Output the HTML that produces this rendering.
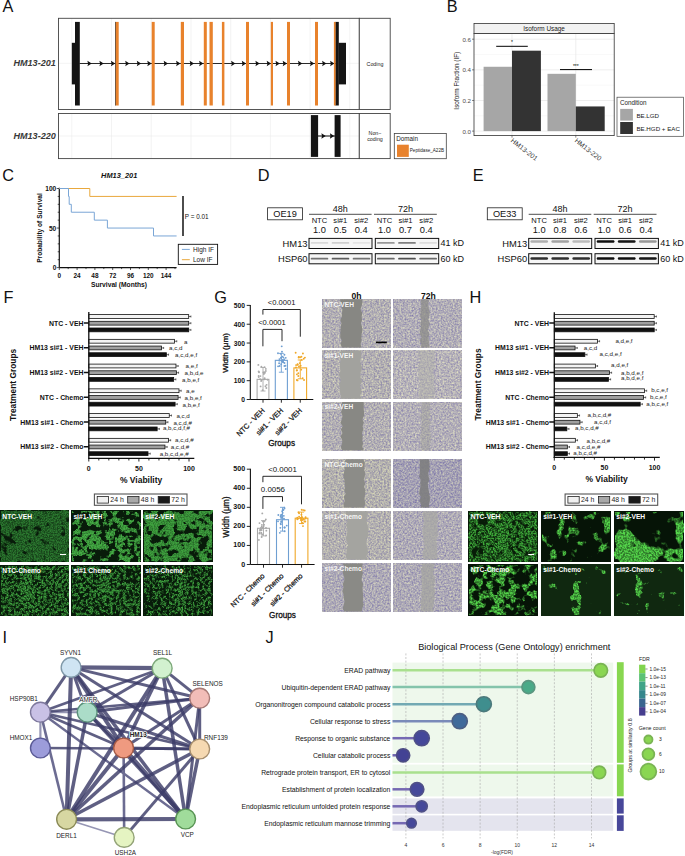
<!DOCTYPE html>
<html><head><meta charset="utf-8"><title>Figure</title>
<style>
html,body{margin:0;padding:0;background:#fff;}
body{width:685px;height:856px;overflow:hidden;}
svg{display:block;font-family:"Liberation Sans",sans-serif;}
</style></head><body>
<svg width="685" height="856" viewBox="0 0 685 856">
<defs><radialGradient id="gW"><stop offset="0" stop-color="#fff" stop-opacity="1"/><stop offset="0.6" stop-color="#fff" stop-opacity="0.6"/><stop offset="1" stop-color="#fff" stop-opacity="0"/></radialGradient><radialGradient id="gK"><stop offset="0" stop-color="#000" stop-opacity="1"/><stop offset="0.6" stop-color="#000" stop-opacity="0.6"/><stop offset="1" stop-color="#000" stop-opacity="0"/></radialGradient><filter id="bblur" x="-10%" y="-100%" width="120%" height="300%"><feGaussianBlur stdDeviation="0.55 0.45"/></filter><filter id="fl1" filterUnits="userSpaceOnUse" x="0.50" y="510.80" width="68.50" height="51.00" color-interpolation-filters="sRGB">
<feTurbulence type="fractalNoise" baseFrequency="0.12 0.12" numOctaves="3" seed="3" result="lo"/>
<feColorMatrix in="lo" type="matrix" values="1 0 0 0 0  1 0 0 0 0  1 0 0 0 0  0 0 0 0 1" result="lo1"/>
<feComposite in="SourceGraphic" in2="lo1" operator="arithmetic" k1="0" k2="1" k3="1" k4="-0.5" result="s"/>
<feComponentTransfer in="s" result="mask"><feFuncR type="linear" slope="8" intercept="-2.129"/><feFuncG type="linear" slope="8" intercept="-2.129"/><feFuncB type="linear" slope="8" intercept="-2.129"/><feFuncA type="linear" slope="0" intercept="1"/></feComponentTransfer>
<feTurbulence type="fractalNoise" baseFrequency="0.75" numOctaves="2" seed="11" result="hi"/>
<feColorMatrix in="hi" type="matrix" values="1 0 0 0 0  1 0 0 0 0  1 0 0 0 0  0 0 0 0 1" result="hi1"/>
<feComponentTransfer in="hi1" result="hi2"><feFuncR type="linear" slope="3" intercept="-1"/><feFuncG type="linear" slope="3" intercept="-1"/><feFuncB type="linear" slope="3" intercept="-1"/></feComponentTransfer>
<feComposite in="mask" in2="hi2" operator="arithmetic" k1="0.55" k2="0.42" k3="0" k4="0" result="v"/>
<feColorMatrix in="v" type="matrix" values="0.141 0 0 0 0.031  0.373 0 0 0 0.106  0.149 0 0 0 0.039  0 0 0 0 1" result="col"/>
<feGaussianBlur in="col" stdDeviation="0.35"/>
</filter><filter id="fl2" filterUnits="userSpaceOnUse" x="71.60" y="510.80" width="69.10" height="51.00" color-interpolation-filters="sRGB">
<feTurbulence type="fractalNoise" baseFrequency="0.16 0.16" numOctaves="3" seed="5" result="lo"/>
<feColorMatrix in="lo" type="matrix" values="1 0 0 0 0  1 0 0 0 0  1 0 0 0 0  0 0 0 0 1" result="lo1"/>
<feComposite in="SourceGraphic" in2="lo1" operator="arithmetic" k1="0" k2="1" k3="1" k4="-0.5" result="s"/>
<feComponentTransfer in="s" result="mask"><feFuncR type="linear" slope="10" intercept="-4.500"/><feFuncG type="linear" slope="10" intercept="-4.500"/><feFuncB type="linear" slope="10" intercept="-4.500"/><feFuncA type="linear" slope="0" intercept="1"/></feComponentTransfer>
<feTurbulence type="fractalNoise" baseFrequency="0.75" numOctaves="2" seed="12" result="hi"/>
<feColorMatrix in="hi" type="matrix" values="1 0 0 0 0  1 0 0 0 0  1 0 0 0 0  0 0 0 0 1" result="hi1"/>
<feComponentTransfer in="hi1" result="hi2"><feFuncR type="linear" slope="3" intercept="-1"/><feFuncG type="linear" slope="3" intercept="-1"/><feFuncB type="linear" slope="3" intercept="-1"/></feComponentTransfer>
<feComposite in="mask" in2="hi2" operator="arithmetic" k1="0.4" k2="0.65" k3="0" k4="0" result="v"/>
<feColorMatrix in="v" type="matrix" values="0.235 0 0 0 0.031  0.569 0 0 0 0.106  0.227 0 0 0 0.039  0 0 0 0 1" result="col"/>
<feGaussianBlur in="col" stdDeviation="0.35"/>
</filter><filter id="fl3" filterUnits="userSpaceOnUse" x="143.50" y="510.80" width="69.10" height="51.00" color-interpolation-filters="sRGB">
<feTurbulence type="fractalNoise" baseFrequency="0.14 0.14" numOctaves="3" seed="7" result="lo"/>
<feColorMatrix in="lo" type="matrix" values="1 0 0 0 0  1 0 0 0 0  1 0 0 0 0  0 0 0 0 1" result="lo1"/>
<feComposite in="SourceGraphic" in2="lo1" operator="arithmetic" k1="0" k2="1" k3="1" k4="-0.5" result="s"/>
<feComponentTransfer in="s" result="mask"><feFuncR type="linear" slope="10" intercept="-3.789"/><feFuncG type="linear" slope="10" intercept="-3.789"/><feFuncB type="linear" slope="10" intercept="-3.789"/><feFuncA type="linear" slope="0" intercept="1"/></feComponentTransfer>
<feTurbulence type="fractalNoise" baseFrequency="0.75" numOctaves="2" seed="13" result="hi"/>
<feColorMatrix in="hi" type="matrix" values="1 0 0 0 0  1 0 0 0 0  1 0 0 0 0  0 0 0 0 1" result="hi1"/>
<feComponentTransfer in="hi1" result="hi2"><feFuncR type="linear" slope="3" intercept="-1"/><feFuncG type="linear" slope="3" intercept="-1"/><feFuncB type="linear" slope="3" intercept="-1"/></feComponentTransfer>
<feComposite in="mask" in2="hi2" operator="arithmetic" k1="0.4" k2="0.65" k3="0" k4="0" result="v"/>
<feColorMatrix in="v" type="matrix" values="0.212 0 0 0 0.031  0.522 0 0 0 0.106  0.204 0 0 0 0.039  0 0 0 0 1" result="col"/>
<feGaussianBlur in="col" stdDeviation="0.35"/>
</filter><filter id="fl4" filterUnits="userSpaceOnUse" x="0.50" y="565.40" width="68.50" height="50.40" color-interpolation-filters="sRGB">
<feTurbulence type="fractalNoise" baseFrequency="0.34 0.34" numOctaves="3" seed="9" result="lo"/>
<feColorMatrix in="lo" type="matrix" values="1 0 0 0 0  1 0 0 0 0  1 0 0 0 0  0 0 0 0 1" result="lo1"/>
<feComposite in="SourceGraphic" in2="lo1" operator="arithmetic" k1="0" k2="1" k3="1" k4="-0.5" result="s"/>
<feComponentTransfer in="s" result="mask"><feFuncR type="linear" slope="6" intercept="-2.408"/><feFuncG type="linear" slope="6" intercept="-2.408"/><feFuncB type="linear" slope="6" intercept="-2.408"/><feFuncA type="linear" slope="0" intercept="1"/></feComponentTransfer>
<feTurbulence type="fractalNoise" baseFrequency="0.8" numOctaves="2" seed="14" result="hi"/>
<feColorMatrix in="hi" type="matrix" values="1 0 0 0 0  1 0 0 0 0  1 0 0 0 0  0 0 0 0 1" result="hi1"/>
<feComponentTransfer in="hi1" result="hi2"><feFuncR type="linear" slope="3" intercept="-1"/><feFuncG type="linear" slope="3" intercept="-1"/><feFuncB type="linear" slope="3" intercept="-1"/></feComponentTransfer>
<feComposite in="mask" in2="hi2" operator="arithmetic" k1="0.6" k2="0.35" k3="0" k4="0" result="v"/>
<feColorMatrix in="v" type="matrix" values="0.212 0 0 0 0.031  0.522 0 0 0 0.106  0.204 0 0 0 0.039  0 0 0 0 1" result="col"/>
<feGaussianBlur in="col" stdDeviation="0.35"/>
</filter><filter id="fl5" filterUnits="userSpaceOnUse" x="71.60" y="565.40" width="69.10" height="50.40" color-interpolation-filters="sRGB">
<feTurbulence type="fractalNoise" baseFrequency="0.3 0.3" numOctaves="3" seed="10" result="lo"/>
<feColorMatrix in="lo" type="matrix" values="1 0 0 0 0  1 0 0 0 0  1 0 0 0 0  0 0 0 0 1" result="lo1"/>
<feComposite in="SourceGraphic" in2="lo1" operator="arithmetic" k1="0" k2="1" k3="1" k4="-0.5" result="s"/>
<feComponentTransfer in="s" result="mask"><feFuncR type="linear" slope="6" intercept="-2.537"/><feFuncG type="linear" slope="6" intercept="-2.537"/><feFuncB type="linear" slope="6" intercept="-2.537"/><feFuncA type="linear" slope="0" intercept="1"/></feComponentTransfer>
<feTurbulence type="fractalNoise" baseFrequency="0.8" numOctaves="2" seed="15" result="hi"/>
<feColorMatrix in="hi" type="matrix" values="1 0 0 0 0  1 0 0 0 0  1 0 0 0 0  0 0 0 0 1" result="hi1"/>
<feComponentTransfer in="hi1" result="hi2"><feFuncR type="linear" slope="3" intercept="-1"/><feFuncG type="linear" slope="3" intercept="-1"/><feFuncB type="linear" slope="3" intercept="-1"/></feComponentTransfer>
<feComposite in="mask" in2="hi2" operator="arithmetic" k1="0.6" k2="0.35" k3="0" k4="0" result="v"/>
<feColorMatrix in="v" type="matrix" values="0.212 0 0 0 0.031  0.522 0 0 0 0.106  0.204 0 0 0 0.039  0 0 0 0 1" result="col"/>
<feGaussianBlur in="col" stdDeviation="0.35"/>
</filter><filter id="fl6" filterUnits="userSpaceOnUse" x="143.50" y="565.40" width="69.10" height="50.40" color-interpolation-filters="sRGB">
<feTurbulence type="fractalNoise" baseFrequency="0.36 0.36" numOctaves="3" seed="4" result="lo"/>
<feColorMatrix in="lo" type="matrix" values="1 0 0 0 0  1 0 0 0 0  1 0 0 0 0  0 0 0 0 1" result="lo1"/>
<feComposite in="SourceGraphic" in2="lo1" operator="arithmetic" k1="0" k2="1" k3="1" k4="-0.5" result="s"/>
<feComponentTransfer in="s" result="mask"><feFuncR type="linear" slope="6" intercept="-2.685"/><feFuncG type="linear" slope="6" intercept="-2.685"/><feFuncB type="linear" slope="6" intercept="-2.685"/><feFuncA type="linear" slope="0" intercept="1"/></feComponentTransfer>
<feTurbulence type="fractalNoise" baseFrequency="0.8" numOctaves="2" seed="16" result="hi"/>
<feColorMatrix in="hi" type="matrix" values="1 0 0 0 0  1 0 0 0 0  1 0 0 0 0  0 0 0 0 1" result="hi1"/>
<feComponentTransfer in="hi1" result="hi2"><feFuncR type="linear" slope="3" intercept="-1"/><feFuncG type="linear" slope="3" intercept="-1"/><feFuncB type="linear" slope="3" intercept="-1"/></feComponentTransfer>
<feComposite in="mask" in2="hi2" operator="arithmetic" k1="0.6" k2="0.35" k3="0" k4="0" result="v"/>
<feColorMatrix in="v" type="matrix" values="0.212 0 0 0 0.031  0.522 0 0 0 0.106  0.204 0 0 0 0.039  0 0 0 0 1" result="col"/>
<feGaussianBlur in="col" stdDeviation="0.35"/>
</filter><filter id="fl7" filterUnits="userSpaceOnUse" x="468.90" y="511.50" width="68.30" height="50.30" color-interpolation-filters="sRGB">
<feTurbulence type="fractalNoise" baseFrequency="0.25 0.25" numOctaves="3" seed="21" result="lo"/>
<feColorMatrix in="lo" type="matrix" values="1 0 0 0 0  1 0 0 0 0  1 0 0 0 0  0 0 0 0 1" result="lo1"/>
<feComposite in="SourceGraphic" in2="lo1" operator="arithmetic" k1="0" k2="1" k3="1" k4="-0.5" result="s"/>
<feComponentTransfer in="s" result="mask"><feFuncR type="linear" slope="5" intercept="-1.529"/><feFuncG type="linear" slope="5" intercept="-1.529"/><feFuncB type="linear" slope="5" intercept="-1.529"/><feFuncA type="linear" slope="0" intercept="1"/></feComponentTransfer>
<feTurbulence type="fractalNoise" baseFrequency="0.6" numOctaves="2" seed="31" result="hi"/>
<feColorMatrix in="hi" type="matrix" values="1 0 0 0 0  1 0 0 0 0  1 0 0 0 0  0 0 0 0 1" result="hi1"/>
<feComponentTransfer in="hi1" result="hi2"><feFuncR type="linear" slope="3" intercept="-1"/><feFuncG type="linear" slope="3" intercept="-1"/><feFuncB type="linear" slope="3" intercept="-1"/></feComponentTransfer>
<feComposite in="mask" in2="hi2" operator="arithmetic" k1="0.65" k2="0.15" k3="0" k4="0" result="v"/>
<feColorMatrix in="v" type="matrix" values="0.212 0 0 0 0.031  0.557 0 0 0 0.110  0.196 0 0 0 0.031  0 0 0 0 1" result="col"/>
<feGaussianBlur in="col" stdDeviation="0.35"/>
</filter><filter id="fl8" filterUnits="userSpaceOnUse" x="541.50" y="511.50" width="68.60" height="50.30" color-interpolation-filters="sRGB">
<feTurbulence type="fractalNoise" baseFrequency="0.09 0.09" numOctaves="3" seed="22" result="lo"/>
<feColorMatrix in="lo" type="matrix" values="1 0 0 0 0  1 0 0 0 0  1 0 0 0 0  0 0 0 0 1" result="lo1"/>
<feComposite in="SourceGraphic" in2="lo1" operator="arithmetic" k1="0" k2="1" k3="1" k4="-0.5" result="s"/>
<feComponentTransfer in="s" result="mask"><feFuncR type="linear" slope="10" intercept="-6.300"/><feFuncG type="linear" slope="10" intercept="-6.300"/><feFuncB type="linear" slope="10" intercept="-6.300"/><feFuncA type="linear" slope="0" intercept="1"/></feComponentTransfer>
<feTurbulence type="fractalNoise" baseFrequency="0.55" numOctaves="2" seed="32" result="hi"/>
<feColorMatrix in="hi" type="matrix" values="1 0 0 0 0  1 0 0 0 0  1 0 0 0 0  0 0 0 0 1" result="hi1"/>
<feComponentTransfer in="hi1" result="hi2"><feFuncR type="linear" slope="3" intercept="-1"/><feFuncG type="linear" slope="3" intercept="-1"/><feFuncB type="linear" slope="3" intercept="-1"/></feComponentTransfer>
<feComposite in="mask" in2="hi2" operator="arithmetic" k1="0.6" k2="0.4" k3="0" k4="0" result="v"/>
<feColorMatrix in="v" type="matrix" values="0.310 0 0 0 0.024  0.765 0 0 0 0.078  0.267 0 0 0 0.027  0 0 0 0 1" result="col"/>
<feGaussianBlur in="col" stdDeviation="0.35"/>
</filter><filter id="fl9" filterUnits="userSpaceOnUse" x="614.40" y="511.50" width="69.00" height="50.30" color-interpolation-filters="sRGB">
<feTurbulence type="fractalNoise" baseFrequency="0.06 0.06" numOctaves="3" seed="23" result="lo"/>
<feColorMatrix in="lo" type="matrix" values="1 0 0 0 0  1 0 0 0 0  1 0 0 0 0  0 0 0 0 1" result="lo1"/>
<feComposite in="SourceGraphic" in2="lo1" operator="arithmetic" k1="0" k2="1" k3="1" k4="-0.5" result="s"/>
<feComponentTransfer in="s" result="mask"><feFuncR type="linear" slope="12" intercept="-6.064"/><feFuncG type="linear" slope="12" intercept="-6.064"/><feFuncB type="linear" slope="12" intercept="-6.064"/><feFuncA type="linear" slope="0" intercept="1"/></feComponentTransfer>
<feTurbulence type="fractalNoise" baseFrequency="0.55" numOctaves="2" seed="33" result="hi"/>
<feColorMatrix in="hi" type="matrix" values="1 0 0 0 0  1 0 0 0 0  1 0 0 0 0  0 0 0 0 1" result="hi1"/>
<feComponentTransfer in="hi1" result="hi2"><feFuncR type="linear" slope="3" intercept="-1"/><feFuncG type="linear" slope="3" intercept="-1"/><feFuncB type="linear" slope="3" intercept="-1"/></feComponentTransfer>
<feComposite in="mask" in2="hi2" operator="arithmetic" k1="0.5" k2="0.5" k3="0" k4="0" result="v"/>
<feColorMatrix in="v" type="matrix" values="0.310 0 0 0 0.024  0.765 0 0 0 0.078  0.267 0 0 0 0.027  0 0 0 0 1" result="col"/>
<feGaussianBlur in="col" stdDeviation="0.35"/>
</filter><filter id="fl10" filterUnits="userSpaceOnUse" x="468.90" y="564.70" width="68.30" height="50.90" color-interpolation-filters="sRGB">
<feTurbulence type="fractalNoise" baseFrequency="0.12 0.12" numOctaves="3" seed="24" result="lo"/>
<feColorMatrix in="lo" type="matrix" values="1 0 0 0 0  1 0 0 0 0  1 0 0 0 0  0 0 0 0 1" result="lo1"/>
<feComposite in="SourceGraphic" in2="lo1" operator="arithmetic" k1="0" k2="1" k3="1" k4="-0.5" result="s"/>
<feComponentTransfer in="s" result="mask"><feFuncR type="linear" slope="8" intercept="-3.697"/><feFuncG type="linear" slope="8" intercept="-3.697"/><feFuncB type="linear" slope="8" intercept="-3.697"/><feFuncA type="linear" slope="0" intercept="1"/></feComponentTransfer>
<feTurbulence type="fractalNoise" baseFrequency="0.55" numOctaves="2" seed="34" result="hi"/>
<feColorMatrix in="hi" type="matrix" values="1 0 0 0 0  1 0 0 0 0  1 0 0 0 0  0 0 0 0 1" result="hi1"/>
<feComponentTransfer in="hi1" result="hi2"><feFuncR type="linear" slope="3" intercept="-1"/><feFuncG type="linear" slope="3" intercept="-1"/><feFuncB type="linear" slope="3" intercept="-1"/></feComponentTransfer>
<feComposite in="mask" in2="hi2" operator="arithmetic" k1="0.6" k2="0.4" k3="0" k4="0" result="v"/>
<feColorMatrix in="v" type="matrix" values="0.310 0 0 0 0.024  0.765 0 0 0 0.078  0.267 0 0 0 0.027  0 0 0 0 1" result="col"/>
<feGaussianBlur in="col" stdDeviation="0.35"/>
</filter><filter id="fl11" filterUnits="userSpaceOnUse" x="541.50" y="564.70" width="68.60" height="50.90" color-interpolation-filters="sRGB">
<feTurbulence type="fractalNoise" baseFrequency="0.12 0.12" numOctaves="3" seed="25" result="lo"/>
<feColorMatrix in="lo" type="matrix" values="1 0 0 0 0  1 0 0 0 0  1 0 0 0 0  0 0 0 0 1" result="lo1"/>
<feComposite in="SourceGraphic" in2="lo1" operator="arithmetic" k1="0" k2="1" k3="1" k4="-0.5" result="s"/>
<feComponentTransfer in="s" result="mask"><feFuncR type="linear" slope="10" intercept="-7.148"/><feFuncG type="linear" slope="10" intercept="-7.148"/><feFuncB type="linear" slope="10" intercept="-7.148"/><feFuncA type="linear" slope="0" intercept="1"/></feComponentTransfer>
<feTurbulence type="fractalNoise" baseFrequency="0.55" numOctaves="2" seed="35" result="hi"/>
<feColorMatrix in="hi" type="matrix" values="1 0 0 0 0  1 0 0 0 0  1 0 0 0 0  0 0 0 0 1" result="hi1"/>
<feComponentTransfer in="hi1" result="hi2"><feFuncR type="linear" slope="3" intercept="-1"/><feFuncG type="linear" slope="3" intercept="-1"/><feFuncB type="linear" slope="3" intercept="-1"/></feComponentTransfer>
<feComposite in="mask" in2="hi2" operator="arithmetic" k1="0.6" k2="0.4" k3="0" k4="0" result="v"/>
<feColorMatrix in="v" type="matrix" values="0.271 0 0 0 0.063  0.686 0 0 0 0.157  0.231 0 0 0 0.063  0 0 0 0 1" result="col"/>
<feGaussianBlur in="col" stdDeviation="0.35"/>
</filter><filter id="fl12" filterUnits="userSpaceOnUse" x="614.40" y="564.70" width="69.00" height="50.90" color-interpolation-filters="sRGB">
<feTurbulence type="fractalNoise" baseFrequency="0.12 0.12" numOctaves="3" seed="26" result="lo"/>
<feColorMatrix in="lo" type="matrix" values="1 0 0 0 0  1 0 0 0 0  1 0 0 0 0  0 0 0 0 1" result="lo1"/>
<feComposite in="SourceGraphic" in2="lo1" operator="arithmetic" k1="0" k2="1" k3="1" k4="-0.5" result="s"/>
<feComponentTransfer in="s" result="mask"><feFuncR type="linear" slope="10" intercept="-7.148"/><feFuncG type="linear" slope="10" intercept="-7.148"/><feFuncB type="linear" slope="10" intercept="-7.148"/><feFuncA type="linear" slope="0" intercept="1"/></feComponentTransfer>
<feTurbulence type="fractalNoise" baseFrequency="0.55" numOctaves="2" seed="36" result="hi"/>
<feColorMatrix in="hi" type="matrix" values="1 0 0 0 0  1 0 0 0 0  1 0 0 0 0  0 0 0 0 1" result="hi1"/>
<feComponentTransfer in="hi1" result="hi2"><feFuncR type="linear" slope="3" intercept="-1"/><feFuncG type="linear" slope="3" intercept="-1"/><feFuncB type="linear" slope="3" intercept="-1"/></feComponentTransfer>
<feComposite in="mask" in2="hi2" operator="arithmetic" k1="0.6" k2="0.4" k3="0" k4="0" result="v"/>
<feColorMatrix in="v" type="matrix" values="0.271 0 0 0 0.063  0.686 0 0 0 0.157  0.231 0 0 0 0.063  0 0 0 0 1" result="col"/>
<feGaussianBlur in="col" stdDeviation="0.35"/>
</filter><filter id="gblur" x="-20%" y="-5%" width="140%" height="110%"><feGaussianBlur stdDeviation="0.5"/></filter><filter id="sc1" x="0" y="0" width="1" height="1" color-interpolation-filters="sRGB">
<feTurbulence type="fractalNoise" baseFrequency="0.58" numOctaves="2" seed="40" result="n"/>
<feColorMatrix in="n" type="matrix" values="0.47 0 0 0 0.463  0.5 0 0 0 0.435  0.12 0 0 0 0.646  0 0 0 0 1"/>
<feGaussianBlur stdDeviation="0.3"/>
</filter><filter id="sc2" x="0" y="0" width="1" height="1" color-interpolation-filters="sRGB">
<feTurbulence type="fractalNoise" baseFrequency="0.58" numOctaves="2" seed="60" result="n"/>
<feColorMatrix in="n" type="matrix" values="0.47 0 0 0 0.460  0.5 0 0 0 0.430  0.12 0 0 0 0.660  0 0 0 0 1"/>
<feGaussianBlur stdDeviation="0.3"/>
</filter><filter id="sc3" x="0" y="0" width="1" height="1" color-interpolation-filters="sRGB">
<feTurbulence type="fractalNoise" baseFrequency="0.58" numOctaves="2" seed="41" result="n"/>
<feColorMatrix in="n" type="matrix" values="0.47 0 0 0 0.465  0.5 0 0 0 0.438  0.12 0 0 0 0.639  0 0 0 0 1"/>
<feGaussianBlur stdDeviation="0.3"/>
</filter><filter id="sc4" x="0" y="0" width="1" height="1" color-interpolation-filters="sRGB">
<feTurbulence type="fractalNoise" baseFrequency="0.58" numOctaves="2" seed="61" result="n"/>
<feColorMatrix in="n" type="matrix" values="0.47 0 0 0 0.481  0.5 0 0 0 0.451  0.12 0 0 0 0.666  0 0 0 0 1"/>
<feGaussianBlur stdDeviation="0.3"/>
</filter><filter id="sc5" x="0" y="0" width="1" height="1" color-interpolation-filters="sRGB">
<feTurbulence type="fractalNoise" baseFrequency="0.58" numOctaves="2" seed="42" result="n"/>
<feColorMatrix in="n" type="matrix" values="0.47 0 0 0 0.463  0.5 0 0 0 0.435  0.12 0 0 0 0.646  0 0 0 0 1"/>
<feGaussianBlur stdDeviation="0.3"/>
</filter><filter id="sc6" x="0" y="0" width="1" height="1" color-interpolation-filters="sRGB">
<feTurbulence type="fractalNoise" baseFrequency="0.58" numOctaves="2" seed="62" result="n"/>
<feColorMatrix in="n" type="matrix" values="0.47 0 0 0 0.467  0.5 0 0 0 0.437  0.12 0 0 0 0.662  0 0 0 0 1"/>
<feGaussianBlur stdDeviation="0.3"/>
</filter><filter id="sc7" x="0" y="0" width="1" height="1" color-interpolation-filters="sRGB">
<feTurbulence type="fractalNoise" baseFrequency="0.58" numOctaves="2" seed="43" result="n"/>
<feColorMatrix in="n" type="matrix" values="0.47 0 0 0 0.468  0.5 0 0 0 0.443  0.12 0 0 0 0.625  0 0 0 0 1"/>
<feGaussianBlur stdDeviation="0.3"/>
</filter><filter id="sc8" x="0" y="0" width="1" height="1" color-interpolation-filters="sRGB">
<feTurbulence type="fractalNoise" baseFrequency="0.58" numOctaves="2" seed="63" result="n"/>
<feColorMatrix in="n" type="matrix" values="0.47 0 0 0 0.411  0.5 0 0 0 0.381  0.12 0 0 0 0.646  0 0 0 0 1"/>
<feGaussianBlur stdDeviation="0.3"/>
</filter><filter id="sc9" x="0" y="0" width="1" height="1" color-interpolation-filters="sRGB">
<feTurbulence type="fractalNoise" baseFrequency="0.58" numOctaves="2" seed="44" result="n"/>
<feColorMatrix in="n" type="matrix" values="0.47 0 0 0 0.466  0.5 0 0 0 0.440  0.12 0 0 0 0.632  0 0 0 0 1"/>
<feGaussianBlur stdDeviation="0.3"/>
</filter><filter id="sc10" x="0" y="0" width="1" height="1" color-interpolation-filters="sRGB">
<feTurbulence type="fractalNoise" baseFrequency="0.58" numOctaves="2" seed="64" result="n"/>
<feColorMatrix in="n" type="matrix" values="0.47 0 0 0 0.450  0.5 0 0 0 0.419  0.12 0 0 0 0.657  0 0 0 0 1"/>
<feGaussianBlur stdDeviation="0.3"/>
</filter><filter id="sc11" x="0" y="0" width="1" height="1" color-interpolation-filters="sRGB">
<feTurbulence type="fractalNoise" baseFrequency="0.58" numOctaves="2" seed="45" result="n"/>
<feColorMatrix in="n" type="matrix" values="0.47 0 0 0 0.446  0.5 0 0 0 0.416  0.12 0 0 0 0.656  0 0 0 0 1"/>
<feGaussianBlur stdDeviation="0.3"/>
</filter><filter id="sc12" x="0" y="0" width="1" height="1" color-interpolation-filters="sRGB">
<feTurbulence type="fractalNoise" baseFrequency="0.58" numOctaves="2" seed="65" result="n"/>
<feColorMatrix in="n" type="matrix" values="0.47 0 0 0 0.446  0.5 0 0 0 0.416  0.12 0 0 0 0.656  0 0 0 0 1"/>
<feGaussianBlur stdDeviation="0.3"/>
</filter></defs>
<rect x="0" y="0" width="685" height="856" fill="#fff"/>
<text x="2.6" y="11.9" font-size="16.3" fill="#111">A</text>
<text x="446.7" y="11.9" font-size="16.3" fill="#111">B</text>
<text x="2.3" y="180.9" font-size="16.3" fill="#111">C</text>
<text x="257.8" y="180.8" font-size="16.3" fill="#111">D</text>
<text x="472.8" y="180.8" font-size="16.3" fill="#111">E</text>
<text x="3.6" y="302.7" font-size="16.3" fill="#111">F</text>
<text x="214.2" y="302.7" font-size="16.3" fill="#111">G</text>
<text x="469.6" y="302.9" font-size="16.3" fill="#111">H</text>
<text x="2.4" y="642.9" font-size="16.3" fill="#111">I</text>
<text x="265.6" y="642.9" font-size="16.3" fill="#111">J</text>
<rect x="58.50" y="18.30" width="300.80" height="91.20" fill="#fff" stroke="none" stroke-width="0" />
<line x1="71.80" y1="18.30" x2="71.80" y2="109.50" stroke="#ebebeb" stroke-width="0.6" />
<line x1="111.50" y1="18.30" x2="111.50" y2="109.50" stroke="#ebebeb" stroke-width="0.6" />
<line x1="151.20" y1="18.30" x2="151.20" y2="109.50" stroke="#ebebeb" stroke-width="0.6" />
<line x1="191.00" y1="18.30" x2="191.00" y2="109.50" stroke="#ebebeb" stroke-width="0.6" />
<line x1="230.70" y1="18.30" x2="230.70" y2="109.50" stroke="#ebebeb" stroke-width="0.6" />
<line x1="270.40" y1="18.30" x2="270.40" y2="109.50" stroke="#ebebeb" stroke-width="0.6" />
<line x1="310.10" y1="18.30" x2="310.10" y2="109.50" stroke="#ebebeb" stroke-width="0.6" />
<line x1="349.80" y1="18.30" x2="349.80" y2="109.50" stroke="#ebebeb" stroke-width="0.6" />
<line x1="58.50" y1="63.30" x2="359.30" y2="63.30" stroke="#ebebeb" stroke-width="0.6" />
<rect x="58.50" y="113.50" width="300.80" height="45.10" fill="#fff" stroke="none" stroke-width="0" />
<line x1="71.80" y1="113.50" x2="71.80" y2="158.60" stroke="#ebebeb" stroke-width="0.6" />
<line x1="111.50" y1="113.50" x2="111.50" y2="158.60" stroke="#ebebeb" stroke-width="0.6" />
<line x1="151.20" y1="113.50" x2="151.20" y2="158.60" stroke="#ebebeb" stroke-width="0.6" />
<line x1="191.00" y1="113.50" x2="191.00" y2="158.60" stroke="#ebebeb" stroke-width="0.6" />
<line x1="230.70" y1="113.50" x2="230.70" y2="158.60" stroke="#ebebeb" stroke-width="0.6" />
<line x1="270.40" y1="113.50" x2="270.40" y2="158.60" stroke="#ebebeb" stroke-width="0.6" />
<line x1="310.10" y1="113.50" x2="310.10" y2="158.60" stroke="#ebebeb" stroke-width="0.6" />
<line x1="349.80" y1="113.50" x2="349.80" y2="158.60" stroke="#ebebeb" stroke-width="0.6" />
<line x1="58.50" y1="136.00" x2="359.30" y2="136.00" stroke="#ebebeb" stroke-width="0.6" />
<line x1="79.50" y1="63.50" x2="336.00" y2="63.50" stroke="#2a2a2a" stroke-width="1.2" />
<path d="M91.70,63.50 L87.40,60.70 Q88.60,63.50 87.40,66.30 Z" fill="#111"/>
<path d="M103.70,63.50 L99.40,60.70 Q100.60,63.50 99.40,66.30 Z" fill="#111"/>
<path d="M115.20,63.50 L110.90,60.70 Q112.10,63.50 110.90,66.30 Z" fill="#111"/>
<path d="M129.50,63.50 L125.20,60.70 Q126.40,63.50 125.20,66.30 Z" fill="#111"/>
<path d="M141.10,63.50 L136.80,60.70 Q138.00,63.50 136.80,66.30 Z" fill="#111"/>
<path d="M151.60,63.50 L147.30,60.70 Q148.50,63.50 147.30,66.30 Z" fill="#111"/>
<path d="M168.00,63.50 L163.70,60.70 Q164.90,63.50 163.70,66.30 Z" fill="#111"/>
<path d="M180.40,63.50 L176.10,60.70 Q177.30,63.50 176.10,66.30 Z" fill="#111"/>
<path d="M194.00,63.50 L189.70,60.70 Q190.90,63.50 189.70,66.30 Z" fill="#111"/>
<path d="M203.40,63.50 L199.10,60.70 Q200.30,63.50 199.10,66.30 Z" fill="#111"/>
<path d="M235.40,63.50 L231.10,60.70 Q232.30,63.50 231.10,66.30 Z" fill="#111"/>
<path d="M246.10,63.50 L241.80,60.70 Q243.00,63.50 241.80,66.30 Z" fill="#111"/>
<path d="M259.70,63.50 L255.40,60.70 Q256.60,63.50 255.40,66.30 Z" fill="#111"/>
<path d="M271.00,63.50 L266.70,60.70 Q267.90,63.50 266.70,66.30 Z" fill="#111"/>
<path d="M279.80,63.50 L275.50,60.70 Q276.70,63.50 275.50,66.30 Z" fill="#111"/>
<path d="M287.00,63.50 L282.70,60.70 Q283.90,63.50 282.70,66.30 Z" fill="#111"/>
<path d="M302.30,63.50 L298.00,60.70 Q299.20,63.50 298.00,66.30 Z" fill="#111"/>
<path d="M314.30,63.50 L310.00,60.70 Q311.20,63.50 310.00,66.30 Z" fill="#111"/>
<path d="M326.40,63.50 L322.10,60.70 Q323.30,63.50 322.10,66.30 Z" fill="#111"/>
<path d="M334.40,63.50 L330.10,60.70 Q331.30,63.50 330.10,66.30 Z" fill="#111"/>
<rect x="71.80" y="42.80" width="4.20" height="41.60" fill="#141414" stroke="none" stroke-width="0" />
<rect x="75.00" y="21.90" width="4.80" height="83.60" fill="#141414" stroke="none" stroke-width="0" />
<rect x="115.00" y="21.90" width="0.90" height="83.60" fill="#333" stroke="none" stroke-width="0" />
<rect x="115.70" y="21.90" width="3.00" height="83.60" fill="#e8822c" stroke="none" stroke-width="0" />
<rect x="151.70" y="21.90" width="3.00" height="83.60" fill="#e8822c" stroke="none" stroke-width="0" />
<rect x="180.80" y="21.90" width="3.20" height="83.60" fill="#e8822c" stroke="none" stroke-width="0" />
<rect x="203.80" y="21.90" width="3.00" height="83.60" fill="#e8822c" stroke="none" stroke-width="0" />
<rect x="209.50" y="21.90" width="3.30" height="83.60" fill="#e8822c" stroke="none" stroke-width="0" />
<rect x="221.90" y="21.90" width="2.50" height="83.60" fill="#e8822c" stroke="none" stroke-width="0" />
<rect x="246.00" y="21.90" width="3.00" height="83.60" fill="#e8822c" stroke="none" stroke-width="0" />
<rect x="270.80" y="21.90" width="2.20" height="83.60" fill="#e8822c" stroke="none" stroke-width="0" />
<rect x="287.00" y="21.90" width="3.00" height="83.60" fill="#e8822c" stroke="none" stroke-width="0" />
<rect x="315.00" y="21.90" width="3.00" height="83.60" fill="#e8822c" stroke="none" stroke-width="0" />
<rect x="335.30" y="21.90" width="3.50" height="83.60" fill="#141414" stroke="none" stroke-width="0" />
<rect x="333.90" y="21.90" width="1.70" height="83.60" fill="#e8822c" stroke="none" stroke-width="0" />
<rect x="338.50" y="42.80" width="7.50" height="41.60" fill="#141414" stroke="none" stroke-width="0" />
<line x1="318.00" y1="136.00" x2="335.00" y2="136.00" stroke="#222" stroke-width="1.1" />
<path d="M325.70,136.00 L321.40,133.20 Q322.60,136.00 321.40,138.80 Z" fill="#111"/>
<path d="M334.20,136.00 L329.90,133.20 Q331.10,136.00 329.90,138.80 Z" fill="#111"/>
<rect x="310.90" y="115.10" width="7.20" height="41.80" fill="#141414" stroke="none" stroke-width="0" />
<rect x="334.60" y="115.10" width="6.00" height="41.80" fill="#141414" stroke="none" stroke-width="0" />
<rect x="58.50" y="18.30" width="300.80" height="91.20" fill="none" stroke="#444" stroke-width="0.9" />
<rect x="359.30" y="18.30" width="30.90" height="91.20" fill="#fff" stroke="#444" stroke-width="0.9" />
<rect x="58.50" y="113.50" width="300.80" height="45.10" fill="none" stroke="#444" stroke-width="0.9" />
<rect x="359.30" y="113.50" width="30.90" height="45.10" fill="#fff" stroke="#444" stroke-width="0.9" />
<text x="375.00" y="63.80" font-size="5.3" text-anchor="middle" fill="#222" dominant-baseline="central" >Coding</text>
<text x="375.00" y="132.60" font-size="5.3" text-anchor="middle" fill="#222" dominant-baseline="central" >Non−</text>
<text x="375.00" y="139.20" font-size="5.3" text-anchor="middle" fill="#222" dominant-baseline="central" >coding</text>
<text x="55.90" y="63.30" font-size="9.1" text-anchor="end" fill="#3a3a3a" font-weight="bold" font-style="italic" dominant-baseline="central" >HM13-201</text>
<text x="55.90" y="135.70" font-size="9.1" text-anchor="end" fill="#3a3a3a" font-weight="bold" font-style="italic" dominant-baseline="central" >HM13-220</text>
<rect x="394.30" y="133.50" width="52.00" height="25.20" fill="#fff" stroke="#444" stroke-width="0.8" />
<text x="396.20" y="138.30" font-size="6.3" text-anchor="start" fill="#222" dominant-baseline="central" >Domain</text>
<rect x="397.00" y="144.70" width="11.80" height="12.20" fill="#e8822c" stroke="none" stroke-width="0" />
<text x="409.80" y="150.50" font-size="4.6" text-anchor="start" fill="#222" dominant-baseline="central" >Peptidase_A22B</text>
<rect x="474.00" y="33.40" width="140.20" height="102.20" fill="#fff" stroke="none" stroke-width="0" />
<line x1="474.00" y1="115.78" x2="614.20" y2="115.78" stroke="#f3f3f3" stroke-width="0.5" />
<line x1="474.00" y1="85.15" x2="614.20" y2="85.15" stroke="#f3f3f3" stroke-width="0.5" />
<line x1="474.00" y1="54.52" x2="614.20" y2="54.52" stroke="#f3f3f3" stroke-width="0.5" />
<line x1="474.00" y1="131.10" x2="614.20" y2="131.10" stroke="#e6e6e6" stroke-width="0.7" />
<line x1="474.00" y1="100.47" x2="614.20" y2="100.47" stroke="#e6e6e6" stroke-width="0.7" />
<line x1="474.00" y1="69.83" x2="614.20" y2="69.83" stroke="#e6e6e6" stroke-width="0.7" />
<line x1="474.00" y1="39.20" x2="614.20" y2="39.20" stroke="#e6e6e6" stroke-width="0.7" />
<line x1="512.00" y1="33.40" x2="512.00" y2="135.60" stroke="#e6e6e6" stroke-width="0.7" />
<line x1="575.80" y1="33.40" x2="575.80" y2="135.60" stroke="#e6e6e6" stroke-width="0.7" />
<rect x="483.60" y="66.77" width="28.40" height="64.33" fill="#a6a6a6" stroke="none" stroke-width="0" />
<rect x="512.00" y="50.69" width="28.90" height="80.41" fill="#333333" stroke="none" stroke-width="0" />
<rect x="547.50" y="73.82" width="28.30" height="57.28" fill="#a6a6a6" stroke="none" stroke-width="0" />
<rect x="575.80" y="106.44" width="28.90" height="24.66" fill="#333333" stroke="none" stroke-width="0" />
<line x1="496.20" y1="46.30" x2="527.80" y2="46.30" stroke="#000" stroke-width="1.0" />
<text x="512.00" y="42.30" font-size="5" text-anchor="middle" fill="#000" dominant-baseline="central" >*</text>
<line x1="560.00" y1="69.60" x2="592.00" y2="69.60" stroke="#000" stroke-width="1.0" />
<text x="575.80" y="65.60" font-size="5" text-anchor="middle" fill="#000" dominant-baseline="central" >***</text>
<rect x="474.00" y="33.40" width="140.20" height="102.20" fill="none" stroke="#333" stroke-width="0.8" />
<rect x="474.00" y="23.40" width="140.20" height="10.00" fill="#f2f2f2" stroke="#333" stroke-width="0.8" />
<text x="544.10" y="28.60" font-size="6.4" text-anchor="middle" fill="#1a1a1a" dominant-baseline="central" >Isoform Usage</text>
<line x1="472.00" y1="131.10" x2="474.00" y2="131.10" stroke="#333" stroke-width="0.6" />
<text x="471.00" y="131.10" font-size="6.2" text-anchor="end" fill="#4d4d4d" dominant-baseline="central" >0.0</text>
<line x1="472.00" y1="100.47" x2="474.00" y2="100.47" stroke="#333" stroke-width="0.6" />
<text x="471.00" y="100.47" font-size="6.2" text-anchor="end" fill="#4d4d4d" dominant-baseline="central" >0.2</text>
<line x1="472.00" y1="69.83" x2="474.00" y2="69.83" stroke="#333" stroke-width="0.6" />
<text x="471.00" y="69.83" font-size="6.2" text-anchor="end" fill="#4d4d4d" dominant-baseline="central" >0.4</text>
<line x1="472.00" y1="39.20" x2="474.00" y2="39.20" stroke="#333" stroke-width="0.6" />
<text x="471.00" y="39.20" font-size="6.2" text-anchor="end" fill="#4d4d4d" dominant-baseline="central" >0.6</text>
<line x1="512.00" y1="135.60" x2="512.00" y2="137.60" stroke="#333" stroke-width="0.6" />
<line x1="575.80" y1="135.60" x2="575.80" y2="137.60" stroke="#333" stroke-width="0.6" />
<text font-size="6.8" fill="#333" transform="translate(511.9,139.6) rotate(38)" dominant-baseline="central">HM13-201</text>
<text font-size="6.8" fill="#333" transform="translate(575.7,139.6) rotate(38)" dominant-baseline="central">HM13-220</text>
<text font-size="6.4" fill="#1a1a1a" text-anchor="middle" transform="translate(456.2,80.7) rotate(-90)" dominant-baseline="central">Isoform Fraction (IF)</text>
<rect x="617.00" y="97.20" width="66.50" height="39.10" fill="#fff" stroke="#444" stroke-width="0.7" />
<text x="619.90" y="102.60" font-size="6.3" text-anchor="start" fill="#1a1a1a" dominant-baseline="central" >Condition</text>
<rect x="620.20" y="108.90" width="12.70" height="11.70" fill="#a6a6a6" stroke="none" stroke-width="0" />
<rect x="620.20" y="122.00" width="12.70" height="12.00" fill="#333333" stroke="none" stroke-width="0" />
<text x="636.40" y="115.60" font-size="6.2" text-anchor="start" fill="#1a1a1a" dominant-baseline="central" >BE.LGD</text>
<text x="636.40" y="128.30" font-size="6.2" text-anchor="start" fill="#1a1a1a" dominant-baseline="central" >BE.HGD + EAC</text>
<text x="119.20" y="175.20" font-size="7.4" text-anchor="middle" fill="#111" font-weight="bold" font-style="italic" dominant-baseline="central" >HM13_201</text>
<line x1="59.30" y1="187.80" x2="59.30" y2="267.60" stroke="#111" stroke-width="1.2" />
<line x1="56.70" y1="267.60" x2="59.30" y2="267.60" stroke="#111" stroke-width="0.7" />
<line x1="57.70" y1="259.69" x2="59.30" y2="259.69" stroke="#111" stroke-width="0.7" />
<line x1="57.70" y1="251.78" x2="59.30" y2="251.78" stroke="#111" stroke-width="0.7" />
<line x1="57.70" y1="243.87" x2="59.30" y2="243.87" stroke="#111" stroke-width="0.7" />
<line x1="57.70" y1="235.96" x2="59.30" y2="235.96" stroke="#111" stroke-width="0.7" />
<line x1="56.70" y1="228.05" x2="59.30" y2="228.05" stroke="#111" stroke-width="0.7" />
<line x1="57.70" y1="220.14" x2="59.30" y2="220.14" stroke="#111" stroke-width="0.7" />
<line x1="57.70" y1="212.23" x2="59.30" y2="212.23" stroke="#111" stroke-width="0.7" />
<line x1="57.70" y1="204.32" x2="59.30" y2="204.32" stroke="#111" stroke-width="0.7" />
<line x1="57.70" y1="196.41" x2="59.30" y2="196.41" stroke="#111" stroke-width="0.7" />
<line x1="56.70" y1="188.50" x2="59.30" y2="188.50" stroke="#111" stroke-width="0.7" />
<text x="56.30" y="267.60" font-size="6.6" text-anchor="end" fill="#111" font-weight="bold" dominant-baseline="central" >0</text>
<text x="56.30" y="228.05" font-size="6.6" text-anchor="end" fill="#111" font-weight="bold" dominant-baseline="central" >50</text>
<text x="56.30" y="188.50" font-size="6.6" text-anchor="end" fill="#111" font-weight="bold" dominant-baseline="central" >100</text>
<line x1="59.30" y1="267.60" x2="176.60" y2="267.60" stroke="#111" stroke-width="1.2" />
<line x1="59.30" y1="267.60" x2="59.30" y2="270.00" stroke="#111" stroke-width="0.7" />
<line x1="68.20" y1="267.60" x2="68.20" y2="269.10" stroke="#111" stroke-width="0.7" />
<line x1="77.10" y1="267.60" x2="77.10" y2="270.00" stroke="#111" stroke-width="0.7" />
<line x1="86.00" y1="267.60" x2="86.00" y2="269.10" stroke="#111" stroke-width="0.7" />
<line x1="94.90" y1="267.60" x2="94.90" y2="270.00" stroke="#111" stroke-width="0.7" />
<line x1="103.80" y1="267.60" x2="103.80" y2="269.10" stroke="#111" stroke-width="0.7" />
<line x1="112.70" y1="267.60" x2="112.70" y2="270.00" stroke="#111" stroke-width="0.7" />
<line x1="121.60" y1="267.60" x2="121.60" y2="269.10" stroke="#111" stroke-width="0.7" />
<line x1="130.50" y1="267.60" x2="130.50" y2="270.00" stroke="#111" stroke-width="0.7" />
<line x1="139.40" y1="267.60" x2="139.40" y2="269.10" stroke="#111" stroke-width="0.7" />
<line x1="148.30" y1="267.60" x2="148.30" y2="270.00" stroke="#111" stroke-width="0.7" />
<line x1="157.20" y1="267.60" x2="157.20" y2="269.10" stroke="#111" stroke-width="0.7" />
<line x1="166.10" y1="267.60" x2="166.10" y2="270.00" stroke="#111" stroke-width="0.7" />
<line x1="175.00" y1="267.60" x2="175.00" y2="269.10" stroke="#111" stroke-width="0.7" />
<text x="59.30" y="275.20" font-size="6.4" text-anchor="middle" fill="#111" font-weight="bold" dominant-baseline="central" >0</text>
<text x="77.10" y="275.20" font-size="6.4" text-anchor="middle" fill="#111" font-weight="bold" dominant-baseline="central" >24</text>
<text x="94.90" y="275.20" font-size="6.4" text-anchor="middle" fill="#111" font-weight="bold" dominant-baseline="central" >48</text>
<text x="112.70" y="275.20" font-size="6.4" text-anchor="middle" fill="#111" font-weight="bold" dominant-baseline="central" >72</text>
<text x="130.50" y="275.20" font-size="6.4" text-anchor="middle" fill="#111" font-weight="bold" dominant-baseline="central" >96</text>
<text x="148.30" y="275.20" font-size="6.4" text-anchor="middle" fill="#111" font-weight="bold" dominant-baseline="central" >120</text>
<text x="166.10" y="275.20" font-size="6.4" text-anchor="middle" fill="#111" font-weight="bold" dominant-baseline="central" >144</text>
<text x="119.00" y="284.60" font-size="6.7" text-anchor="middle" fill="#111" font-weight="bold" dominant-baseline="central" >Survival (Months)</text>
<text font-size="6.6" font-weight="bold" fill="#111" text-anchor="middle" transform="translate(39.6,228.0) rotate(-90)" dominant-baseline="central">Probability of Survival</text>
<path d="M59.3,188.5 H89.8 V196.41000000000003 H176.6" fill="none" stroke="#e9a83c" stroke-width="1"/>
<path d="M59.3,188.5 H68.5 V196.41000000000003 H69.2 V204.32 H71.3 V212.23000000000002 H94.3 V220.14000000000001 H107.4 V228.05 H153.5 V235.96 H176.6" fill="none" stroke="#7aa6d6" stroke-width="1"/>
<line x1="183.00" y1="196.00" x2="183.00" y2="236.00" stroke="#000" stroke-width="1.4" />
<text x="184.80" y="216.00" font-size="6.4" text-anchor="start" fill="#111" dominant-baseline="central" >P = 0.01</text>
<rect x="178.30" y="244.30" width="39.30" height="20.10" fill="#fff" stroke="#111" stroke-width="0.9" />
<line x1="181.90" y1="249.40" x2="189.80" y2="249.40" stroke="#7aa6d6" stroke-width="1" />
<line x1="181.90" y1="259.70" x2="189.80" y2="259.70" stroke="#e9a83c" stroke-width="1" />
<text x="193.00" y="249.40" font-size="6.5" text-anchor="start" fill="#222" dominant-baseline="central" >High IF</text>
<text x="193.00" y="259.70" font-size="6.5" text-anchor="start" fill="#222" dominant-baseline="central" >Low IF</text>
<rect x="267.60" y="207.80" width="34.90" height="12.00" fill="#fff" stroke="#222" stroke-width="0.8" />
<text x="285.00" y="214.00" font-size="9.2" text-anchor="middle" fill="#111" dominant-baseline="central" >OE19</text>
<text x="340.30" y="209.20" font-size="9.0" text-anchor="middle" fill="#111" dominant-baseline="central" >48h</text>
<line x1="309.00" y1="214.30" x2="371.60" y2="214.30" stroke="#222" stroke-width="0.8" />
<text x="319.43" y="220.80" font-size="7.6" text-anchor="middle" fill="#111" dominant-baseline="central" >NTC</text>
<text x="319.43" y="230.40" font-size="9.3" text-anchor="middle" fill="#111" dominant-baseline="central" >1.0</text>
<text x="340.30" y="220.80" font-size="7.6" text-anchor="middle" fill="#111" dominant-baseline="central" >si#1</text>
<text x="340.30" y="230.40" font-size="9.3" text-anchor="middle" fill="#111" dominant-baseline="central" >0.5</text>
<text x="361.17" y="220.80" font-size="7.6" text-anchor="middle" fill="#111" dominant-baseline="central" >si#2</text>
<text x="361.17" y="230.40" font-size="9.3" text-anchor="middle" fill="#111" dominant-baseline="central" >0.4</text>
<text x="405.40" y="209.20" font-size="9.0" text-anchor="middle" fill="#111" dominant-baseline="central" >72h</text>
<line x1="374.00" y1="214.30" x2="436.80" y2="214.30" stroke="#222" stroke-width="0.8" />
<text x="384.47" y="220.80" font-size="7.6" text-anchor="middle" fill="#111" dominant-baseline="central" >NTC</text>
<text x="384.47" y="230.40" font-size="9.3" text-anchor="middle" fill="#111" dominant-baseline="central" >1.0</text>
<text x="405.40" y="220.80" font-size="7.6" text-anchor="middle" fill="#111" dominant-baseline="central" >si#1</text>
<text x="405.40" y="230.40" font-size="9.3" text-anchor="middle" fill="#111" dominant-baseline="central" >0.7</text>
<text x="426.33" y="220.80" font-size="7.6" text-anchor="middle" fill="#111" dominant-baseline="central" >si#2</text>
<text x="426.33" y="230.40" font-size="9.3" text-anchor="middle" fill="#111" dominant-baseline="central" >0.4</text>
<rect x="309.00" y="238.40" width="63.00" height="10.10" fill="#f6f6f6" stroke="#111" stroke-width="1.0" />
<rect x="310.68" y="242.00" width="17.64" height="1.8" rx="0.9" fill="rgb(216,216,216)" filter="url(#bblur)"/>
<rect x="331.68" y="242.00" width="17.64" height="1.8" rx="0.9" fill="rgb(207,207,207)" filter="url(#bblur)"/>
<rect x="352.68" y="242.00" width="17.64" height="1.8" rx="0.9" fill="rgb(228,228,228)" filter="url(#bblur)"/>
<rect x="309.00" y="253.70" width="63.00" height="10.10" fill="#f6f6f6" stroke="#111" stroke-width="1.0" />
<rect x="310.68" y="257.80" width="17.64" height="1.8" rx="0.9" fill="rgb(115,115,115)" filter="url(#bblur)"/>
<rect x="331.68" y="257.80" width="17.64" height="1.8" rx="0.9" fill="rgb(92,92,92)" filter="url(#bblur)"/>
<rect x="352.68" y="257.80" width="17.64" height="1.8" rx="0.9" fill="rgb(115,115,115)" filter="url(#bblur)"/>
<rect x="375.30" y="238.40" width="63.40" height="10.10" fill="#f6f6f6" stroke="#111" stroke-width="1.0" />
<rect x="376.99" y="242.00" width="17.75" height="1.8" rx="0.9" fill="rgb(151,151,151)" filter="url(#bblur)"/>
<rect x="398.12" y="242.00" width="17.75" height="1.8" rx="0.9" fill="rgb(127,127,127)" filter="url(#bblur)"/>
<rect x="419.26" y="242.00" width="17.75" height="1.8" rx="0.9" fill="rgb(221,221,221)" filter="url(#bblur)"/>
<rect x="375.30" y="253.70" width="63.40" height="10.10" fill="#f6f6f6" stroke="#111" stroke-width="1.0" />
<rect x="376.99" y="257.80" width="17.75" height="1.8" rx="0.9" fill="rgb(104,104,104)" filter="url(#bblur)"/>
<rect x="398.12" y="257.80" width="17.75" height="1.8" rx="0.9" fill="rgb(80,80,80)" filter="url(#bblur)"/>
<rect x="419.26" y="257.80" width="17.75" height="1.8" rx="0.9" fill="rgb(104,104,104)" filter="url(#bblur)"/>
<text x="307.60" y="243.60" font-size="9.4" text-anchor="end" fill="#111" dominant-baseline="central" >HM13</text>
<text x="307.60" y="258.80" font-size="9.4" text-anchor="end" fill="#111" dominant-baseline="central" >HSP60</text>
<text x="440.60" y="243.40" font-size="9.0" text-anchor="start" fill="#111" dominant-baseline="central" >41 kD</text>
<text x="440.60" y="258.80" font-size="9.0" text-anchor="start" fill="#111" dominant-baseline="central" >60 kD</text>
<rect x="487.30" y="207.80" width="34.90" height="12.00" fill="#fff" stroke="#222" stroke-width="0.8" />
<text x="504.70" y="214.00" font-size="9.2" text-anchor="middle" fill="#111" dominant-baseline="central" >OE33</text>
<text x="560.00" y="209.20" font-size="9.0" text-anchor="middle" fill="#111" dominant-baseline="central" >48h</text>
<line x1="528.70" y1="214.30" x2="591.30" y2="214.30" stroke="#222" stroke-width="0.8" />
<text x="539.13" y="220.80" font-size="7.6" text-anchor="middle" fill="#111" dominant-baseline="central" >NTC</text>
<text x="539.13" y="230.40" font-size="9.3" text-anchor="middle" fill="#111" dominant-baseline="central" >1.0</text>
<text x="560.00" y="220.80" font-size="7.6" text-anchor="middle" fill="#111" dominant-baseline="central" >si#1</text>
<text x="560.00" y="230.40" font-size="9.3" text-anchor="middle" fill="#111" dominant-baseline="central" >0.8</text>
<text x="580.87" y="220.80" font-size="7.6" text-anchor="middle" fill="#111" dominant-baseline="central" >si#2</text>
<text x="580.87" y="230.40" font-size="9.3" text-anchor="middle" fill="#111" dominant-baseline="central" >0.6</text>
<text x="625.10" y="209.20" font-size="9.0" text-anchor="middle" fill="#111" dominant-baseline="central" >72h</text>
<line x1="593.70" y1="214.30" x2="656.50" y2="214.30" stroke="#222" stroke-width="0.8" />
<text x="604.17" y="220.80" font-size="7.6" text-anchor="middle" fill="#111" dominant-baseline="central" >NTC</text>
<text x="604.17" y="230.40" font-size="9.3" text-anchor="middle" fill="#111" dominant-baseline="central" >1.0</text>
<text x="625.10" y="220.80" font-size="7.6" text-anchor="middle" fill="#111" dominant-baseline="central" >si#1</text>
<text x="625.10" y="230.40" font-size="9.3" text-anchor="middle" fill="#111" dominant-baseline="central" >0.6</text>
<text x="646.03" y="220.80" font-size="7.6" text-anchor="middle" fill="#111" dominant-baseline="central" >si#2</text>
<text x="646.03" y="230.40" font-size="9.3" text-anchor="middle" fill="#111" dominant-baseline="central" >0.4</text>
<rect x="528.70" y="238.40" width="63.00" height="10.10" fill="#f6f6f6" stroke="#111" stroke-width="1.0" />
<rect x="530.38" y="240.15" width="17.64" height="2.5" rx="1.25" fill="rgb(174,174,174)" filter="url(#bblur)"/>
<rect x="551.38" y="240.15" width="17.64" height="2.5" rx="1.25" fill="rgb(162,162,162)" filter="url(#bblur)"/>
<rect x="572.38" y="240.15" width="17.64" height="2.5" rx="1.25" fill="rgb(186,186,186)" filter="url(#bblur)"/>
<rect x="528.70" y="253.70" width="63.00" height="10.10" fill="#f6f6f6" stroke="#111" stroke-width="1.0" />
<rect x="530.38" y="257.15" width="17.64" height="2.5" rx="1.25" fill="rgb(45,45,45)" filter="url(#bblur)"/>
<rect x="551.38" y="257.15" width="17.64" height="2.5" rx="1.25" fill="rgb(45,45,45)" filter="url(#bblur)"/>
<rect x="572.38" y="257.15" width="17.64" height="2.5" rx="1.25" fill="rgb(45,45,45)" filter="url(#bblur)"/>
<rect x="595.00" y="238.40" width="63.40" height="10.10" fill="#f6f6f6" stroke="#111" stroke-width="1.0" />
<rect x="596.69" y="240.15" width="17.75" height="2.5" rx="1.25" fill="rgb(10,10,10)" filter="url(#bblur)"/>
<rect x="617.82" y="240.15" width="17.75" height="2.5" rx="1.25" fill="rgb(21,21,21)" filter="url(#bblur)"/>
<rect x="638.96" y="240.15" width="17.75" height="2.5" rx="1.25" fill="rgb(151,151,151)" filter="url(#bblur)"/>
<rect x="595.00" y="253.70" width="63.40" height="10.10" fill="#f6f6f6" stroke="#111" stroke-width="1.0" />
<rect x="596.69" y="257.15" width="17.75" height="2.5" rx="1.25" fill="rgb(10,10,10)" filter="url(#bblur)"/>
<rect x="617.82" y="257.15" width="17.75" height="2.5" rx="1.25" fill="rgb(10,10,10)" filter="url(#bblur)"/>
<rect x="638.96" y="257.15" width="17.75" height="2.5" rx="1.25" fill="rgb(21,21,21)" filter="url(#bblur)"/>
<text x="527.30" y="243.60" font-size="9.4" text-anchor="end" fill="#111" dominant-baseline="central" >HM13</text>
<text x="527.30" y="258.80" font-size="9.4" text-anchor="end" fill="#111" dominant-baseline="central" >HSP60</text>
<text x="660.30" y="243.40" font-size="9.0" text-anchor="start" fill="#111" dominant-baseline="central" >41 kD</text>
<text x="660.30" y="258.80" font-size="9.0" text-anchor="start" fill="#111" dominant-baseline="central" >60 kD</text>
<rect x="88.80" y="314.60" width="99.90" height="3.80" fill="#f3f3f3" stroke="#111" stroke-width="0.8" />
<line x1="188.70" y1="316.50" x2="190.90" y2="316.50" stroke="#111" stroke-width="0.6" />
<line x1="190.90" y1="315.50" x2="190.90" y2="317.50" stroke="#111" stroke-width="0.6" />
<rect x="88.80" y="321.30" width="99.90" height="3.80" fill="#a0a0a0" stroke="#111" stroke-width="0.8" />
<line x1="188.70" y1="323.20" x2="190.90" y2="323.20" stroke="#111" stroke-width="0.6" />
<line x1="190.90" y1="322.20" x2="190.90" y2="324.20" stroke="#111" stroke-width="0.6" />
<rect x="88.80" y="328.00" width="99.90" height="3.80" fill="#111" stroke="#111" stroke-width="0.8" />
<line x1="188.70" y1="329.90" x2="190.90" y2="329.90" stroke="#111" stroke-width="0.6" />
<line x1="190.90" y1="328.90" x2="190.90" y2="330.90" stroke="#111" stroke-width="0.6" />
<line x1="83.80" y1="323.00" x2="88.80" y2="323.00" stroke="#111" stroke-width="1.5" />
<text x="83.50" y="323.00" font-size="6.9" text-anchor="end" fill="#111" font-weight="bold" dominant-baseline="central" >NTC - VEH</text>
<rect x="88.80" y="339.35" width="85.77" height="3.80" fill="#f3f3f3" stroke="#111" stroke-width="0.8" />
<line x1="174.57" y1="341.25" x2="176.77" y2="341.25" stroke="#111" stroke-width="0.6" />
<line x1="176.77" y1="340.25" x2="176.77" y2="342.25" stroke="#111" stroke-width="0.6" />
<rect x="88.80" y="346.05" width="72.64" height="3.80" fill="#a0a0a0" stroke="#111" stroke-width="0.8" />
<line x1="161.44" y1="347.95" x2="163.64" y2="347.95" stroke="#111" stroke-width="0.6" />
<line x1="163.64" y1="346.95" x2="163.64" y2="348.95" stroke="#111" stroke-width="0.6" />
<rect x="88.80" y="352.75" width="77.55" height="3.80" fill="#111" stroke="#111" stroke-width="0.8" />
<line x1="166.35" y1="354.65" x2="168.55" y2="354.65" stroke="#111" stroke-width="0.6" />
<line x1="168.55" y1="353.65" x2="168.55" y2="355.65" stroke="#111" stroke-width="0.6" />
<line x1="83.80" y1="347.75" x2="88.80" y2="347.75" stroke="#111" stroke-width="1.5" />
<text x="83.50" y="347.75" font-size="6.9" text-anchor="end" fill="#111" font-weight="bold" dominant-baseline="central" >HM13 si#1 - VEH</text>
<rect x="88.80" y="364.10" width="87.17" height="3.80" fill="#f3f3f3" stroke="#111" stroke-width="0.8" />
<line x1="175.97" y1="366.00" x2="178.17" y2="366.00" stroke="#111" stroke-width="0.6" />
<line x1="178.17" y1="365.00" x2="178.17" y2="367.00" stroke="#111" stroke-width="0.6" />
<rect x="88.80" y="370.80" width="87.57" height="3.80" fill="#a0a0a0" stroke="#111" stroke-width="0.8" />
<line x1="176.37" y1="372.70" x2="178.57" y2="372.70" stroke="#111" stroke-width="0.6" />
<line x1="178.57" y1="371.70" x2="178.57" y2="373.70" stroke="#111" stroke-width="0.6" />
<rect x="88.80" y="377.50" width="84.87" height="3.80" fill="#111" stroke="#111" stroke-width="0.8" />
<line x1="173.67" y1="379.40" x2="175.87" y2="379.40" stroke="#111" stroke-width="0.6" />
<line x1="175.87" y1="378.40" x2="175.87" y2="380.40" stroke="#111" stroke-width="0.6" />
<line x1="83.80" y1="372.50" x2="88.80" y2="372.50" stroke="#111" stroke-width="1.5" />
<text x="83.50" y="372.50" font-size="6.9" text-anchor="end" fill="#111" font-weight="bold" dominant-baseline="central" >HM13 si#2 - VEH</text>
<rect x="88.80" y="388.85" width="90.18" height="3.80" fill="#f3f3f3" stroke="#111" stroke-width="0.8" />
<line x1="178.98" y1="390.75" x2="181.18" y2="390.75" stroke="#111" stroke-width="0.6" />
<line x1="181.18" y1="389.75" x2="181.18" y2="391.75" stroke="#111" stroke-width="0.6" />
<rect x="88.80" y="395.55" width="89.28" height="3.80" fill="#a0a0a0" stroke="#111" stroke-width="0.8" />
<line x1="178.08" y1="397.45" x2="180.28" y2="397.45" stroke="#111" stroke-width="0.6" />
<line x1="180.28" y1="396.45" x2="180.28" y2="398.45" stroke="#111" stroke-width="0.6" />
<rect x="88.80" y="402.25" width="86.27" height="3.80" fill="#111" stroke="#111" stroke-width="0.8" />
<line x1="175.07" y1="404.15" x2="177.27" y2="404.15" stroke="#111" stroke-width="0.6" />
<line x1="177.27" y1="403.15" x2="177.27" y2="405.15" stroke="#111" stroke-width="0.6" />
<line x1="83.80" y1="397.25" x2="88.80" y2="397.25" stroke="#111" stroke-width="1.5" />
<text x="83.50" y="397.25" font-size="6.9" text-anchor="end" fill="#111" font-weight="bold" dominant-baseline="central" >NTC - Chemo</text>
<rect x="88.80" y="413.60" width="80.46" height="3.80" fill="#f3f3f3" stroke="#111" stroke-width="0.8" />
<line x1="169.26" y1="415.50" x2="171.46" y2="415.50" stroke="#111" stroke-width="0.6" />
<line x1="171.46" y1="414.50" x2="171.46" y2="416.50" stroke="#111" stroke-width="0.6" />
<rect x="88.80" y="420.30" width="76.95" height="3.80" fill="#a0a0a0" stroke="#111" stroke-width="0.8" />
<line x1="165.75" y1="422.20" x2="167.95" y2="422.20" stroke="#111" stroke-width="0.6" />
<line x1="167.95" y1="421.20" x2="167.95" y2="423.20" stroke="#111" stroke-width="0.6" />
<rect x="88.80" y="427.00" width="68.34" height="3.80" fill="#111" stroke="#111" stroke-width="0.8" />
<line x1="157.14" y1="428.90" x2="159.34" y2="428.90" stroke="#111" stroke-width="0.6" />
<line x1="159.34" y1="427.90" x2="159.34" y2="429.90" stroke="#111" stroke-width="0.6" />
<line x1="83.80" y1="422.00" x2="88.80" y2="422.00" stroke="#111" stroke-width="1.5" />
<text x="83.50" y="422.00" font-size="6.9" text-anchor="end" fill="#111" font-weight="bold" dominant-baseline="central" >HM13 si#1 - Chemo</text>
<rect x="88.80" y="438.35" width="79.66" height="3.80" fill="#f3f3f3" stroke="#111" stroke-width="0.8" />
<line x1="168.46" y1="440.25" x2="170.66" y2="440.25" stroke="#111" stroke-width="0.6" />
<line x1="170.66" y1="439.25" x2="170.66" y2="441.25" stroke="#111" stroke-width="0.6" />
<rect x="88.80" y="445.05" width="76.15" height="3.80" fill="#a0a0a0" stroke="#111" stroke-width="0.8" />
<line x1="164.95" y1="446.95" x2="167.15" y2="446.95" stroke="#111" stroke-width="0.6" />
<line x1="167.15" y1="445.95" x2="167.15" y2="447.95" stroke="#111" stroke-width="0.6" />
<rect x="88.80" y="451.75" width="59.22" height="3.80" fill="#111" stroke="#111" stroke-width="0.8" />
<line x1="148.02" y1="453.65" x2="150.22" y2="453.65" stroke="#111" stroke-width="0.6" />
<line x1="150.22" y1="452.65" x2="150.22" y2="454.65" stroke="#111" stroke-width="0.6" />
<line x1="83.80" y1="446.75" x2="88.80" y2="446.75" stroke="#111" stroke-width="1.5" />
<text x="83.50" y="446.75" font-size="6.9" text-anchor="end" fill="#111" font-weight="bold" dominant-baseline="central" >HM13 si#2 - Chemo</text>
<text x="183.90" y="341.00" font-size="6.2" text-anchor="start" fill="#222" dominant-baseline="central" >a</text>
<text x="169.00" y="347.60" font-size="6.2" text-anchor="start" fill="#222" dominant-baseline="central" >a,c,d</text>
<text x="175.10" y="354.00" font-size="6.2" text-anchor="start" fill="#222" dominant-baseline="central" >a,c,d,e,f</text>
<text x="185.60" y="365.50" font-size="6.2" text-anchor="start" fill="#222" dominant-baseline="central" >a,e,f</text>
<text x="184.60" y="372.30" font-size="6.2" text-anchor="start" fill="#222" dominant-baseline="central" >a,b,d,e</text>
<text x="182.10" y="379.00" font-size="6.2" text-anchor="start" fill="#222" dominant-baseline="central" >a,b,e,f</text>
<text x="186.00" y="390.40" font-size="6.2" text-anchor="start" fill="#222" dominant-baseline="central" >a,e</text>
<text x="184.60" y="397.30" font-size="6.2" text-anchor="start" fill="#222" dominant-baseline="central" >a,b,e,f</text>
<text x="182.50" y="404.00" font-size="6.2" text-anchor="start" fill="#222" dominant-baseline="central" >a,b,e,f</text>
<text x="176.40" y="415.10" font-size="6.2" text-anchor="start" fill="#222" dominant-baseline="central" >a,c,d</text>
<text x="173.40" y="422.00" font-size="6.2" text-anchor="start" fill="#222" dominant-baseline="central" >a,c,d,#</text>
<text x="162.90" y="427.90" font-size="6.2" text-anchor="start" fill="#222" dominant-baseline="central" >a,b,c,d,f,#</text>
<text x="175.10" y="439.30" font-size="6.2" text-anchor="start" fill="#222" dominant-baseline="central" >a,c,d,#</text>
<text x="170.70" y="446.30" font-size="6.2" text-anchor="start" fill="#222" dominant-baseline="central" >a,c,d,#</text>
<text x="159.70" y="453.00" font-size="6.2" text-anchor="start" fill="#222" dominant-baseline="central" >a,b,c,d,e,#</text>
<line x1="88.80" y1="312.00" x2="88.80" y2="458.80" stroke="#111" stroke-width="1.3" />
<line x1="88.20" y1="458.30" x2="194.30" y2="458.30" stroke="#111" stroke-width="1.3" />
<line x1="88.80" y1="458.30" x2="88.80" y2="461.50" stroke="#111" stroke-width="0.9" />
<line x1="98.82" y1="458.30" x2="98.82" y2="460.50" stroke="#111" stroke-width="0.9" />
<line x1="108.84" y1="458.30" x2="108.84" y2="460.50" stroke="#111" stroke-width="0.9" />
<line x1="118.86" y1="458.30" x2="118.86" y2="460.50" stroke="#111" stroke-width="0.9" />
<line x1="128.88" y1="458.30" x2="128.88" y2="460.50" stroke="#111" stroke-width="0.9" />
<line x1="138.90" y1="458.30" x2="138.90" y2="461.50" stroke="#111" stroke-width="0.9" />
<line x1="148.92" y1="458.30" x2="148.92" y2="460.50" stroke="#111" stroke-width="0.9" />
<line x1="158.94" y1="458.30" x2="158.94" y2="460.50" stroke="#111" stroke-width="0.9" />
<line x1="168.96" y1="458.30" x2="168.96" y2="460.50" stroke="#111" stroke-width="0.9" />
<line x1="178.98" y1="458.30" x2="178.98" y2="460.50" stroke="#111" stroke-width="0.9" />
<line x1="189.00" y1="458.30" x2="189.00" y2="461.50" stroke="#111" stroke-width="0.9" />
<text x="88.80" y="468.10" font-size="7.0" text-anchor="middle" fill="#111" font-weight="bold" dominant-baseline="central" >0</text>
<text x="138.90" y="468.10" font-size="7.0" text-anchor="middle" fill="#111" font-weight="bold" dominant-baseline="central" >50</text>
<text x="189.00" y="468.10" font-size="7.0" text-anchor="middle" fill="#111" font-weight="bold" dominant-baseline="central" >100</text>
<text x="141.10" y="479.60" font-size="8.5" text-anchor="middle" fill="#111" font-weight="bold" dominant-baseline="central" >% Viability</text>
<rect x="94.40" y="494.00" width="92.60" height="11.30" fill="#fff" stroke="#555" stroke-width="1.1" />
<rect x="97.20" y="496.50" width="11.30" height="6.60" fill="#f0f0f0" stroke="#222" stroke-width="0.8" />
<text x="110.30" y="499.90" font-size="6.9" text-anchor="start" fill="#222" dominant-baseline="central" >24 h</text>
<rect x="127.70" y="496.50" width="11.30" height="6.60" fill="#a8a8a8" stroke="#222" stroke-width="0.8" />
<text x="140.80" y="499.90" font-size="6.9" text-anchor="start" fill="#222" dominant-baseline="central" >48 h</text>
<rect x="158.20" y="496.50" width="11.30" height="6.60" fill="#1a1a1a" stroke="#222" stroke-width="0.8" />
<text x="171.30" y="499.90" font-size="6.9" text-anchor="start" fill="#222" dominant-baseline="central" >72 h</text>
<text font-size="8.4" font-weight="bold" fill="#111" text-anchor="middle" transform="translate(12.8,384.9) rotate(-90)" dominant-baseline="central">Treatment Groups</text>
<rect x="554.30" y="314.60" width="99.90" height="3.80" fill="#f3f3f3" stroke="#111" stroke-width="0.8" />
<line x1="654.20" y1="316.50" x2="656.40" y2="316.50" stroke="#111" stroke-width="0.6" />
<line x1="656.40" y1="315.50" x2="656.40" y2="317.50" stroke="#111" stroke-width="0.6" />
<rect x="554.30" y="321.30" width="99.90" height="3.80" fill="#a0a0a0" stroke="#111" stroke-width="0.8" />
<line x1="654.20" y1="323.20" x2="656.40" y2="323.20" stroke="#111" stroke-width="0.6" />
<line x1="656.40" y1="322.20" x2="656.40" y2="324.20" stroke="#111" stroke-width="0.6" />
<rect x="554.30" y="328.00" width="99.90" height="3.80" fill="#111" stroke="#111" stroke-width="0.8" />
<line x1="654.20" y1="329.90" x2="656.40" y2="329.90" stroke="#111" stroke-width="0.6" />
<line x1="656.40" y1="328.90" x2="656.40" y2="330.90" stroke="#111" stroke-width="0.6" />
<line x1="549.30" y1="323.00" x2="554.30" y2="323.00" stroke="#111" stroke-width="1.5" />
<text x="549.00" y="323.00" font-size="6.9" text-anchor="end" fill="#111" font-weight="bold" dominant-baseline="central" >NTC - VEH</text>
<rect x="554.30" y="339.35" width="43.09" height="3.80" fill="#f3f3f3" stroke="#111" stroke-width="0.8" />
<line x1="597.39" y1="341.25" x2="599.59" y2="341.25" stroke="#111" stroke-width="0.6" />
<line x1="599.59" y1="340.25" x2="599.59" y2="342.25" stroke="#111" stroke-width="0.6" />
<rect x="554.30" y="346.05" width="20.74" height="3.80" fill="#a0a0a0" stroke="#111" stroke-width="0.8" />
<line x1="575.04" y1="347.95" x2="577.24" y2="347.95" stroke="#111" stroke-width="0.6" />
<line x1="577.24" y1="346.95" x2="577.24" y2="348.95" stroke="#111" stroke-width="0.6" />
<rect x="554.30" y="352.75" width="30.56" height="3.80" fill="#111" stroke="#111" stroke-width="0.8" />
<line x1="584.86" y1="354.65" x2="587.06" y2="354.65" stroke="#111" stroke-width="0.6" />
<line x1="587.06" y1="353.65" x2="587.06" y2="355.65" stroke="#111" stroke-width="0.6" />
<line x1="549.30" y1="347.75" x2="554.30" y2="347.75" stroke="#111" stroke-width="1.5" />
<text x="549.00" y="347.75" font-size="6.9" text-anchor="end" fill="#111" font-weight="bold" dominant-baseline="central" >HM13 si#1 - VEH</text>
<rect x="554.30" y="364.10" width="41.08" height="3.80" fill="#f3f3f3" stroke="#111" stroke-width="0.8" />
<line x1="595.38" y1="366.00" x2="597.58" y2="366.00" stroke="#111" stroke-width="0.6" />
<line x1="597.58" y1="365.00" x2="597.58" y2="367.00" stroke="#111" stroke-width="0.6" />
<rect x="554.30" y="370.80" width="55.11" height="3.80" fill="#a0a0a0" stroke="#111" stroke-width="0.8" />
<line x1="609.41" y1="372.70" x2="611.61" y2="372.70" stroke="#111" stroke-width="0.6" />
<line x1="611.61" y1="371.70" x2="611.61" y2="373.70" stroke="#111" stroke-width="0.6" />
<rect x="554.30" y="377.50" width="54.11" height="3.80" fill="#111" stroke="#111" stroke-width="0.8" />
<line x1="608.41" y1="379.40" x2="610.61" y2="379.40" stroke="#111" stroke-width="0.6" />
<line x1="610.61" y1="378.40" x2="610.61" y2="380.40" stroke="#111" stroke-width="0.6" />
<line x1="549.30" y1="372.50" x2="554.30" y2="372.50" stroke="#111" stroke-width="1.5" />
<text x="549.00" y="372.50" font-size="6.9" text-anchor="end" fill="#111" font-weight="bold" dominant-baseline="central" >HM13 si#2 - VEH</text>
<rect x="554.30" y="388.85" width="90.18" height="3.80" fill="#f3f3f3" stroke="#111" stroke-width="0.8" />
<line x1="644.48" y1="390.75" x2="646.68" y2="390.75" stroke="#111" stroke-width="0.6" />
<line x1="646.68" y1="389.75" x2="646.68" y2="391.75" stroke="#111" stroke-width="0.6" />
<rect x="554.30" y="395.55" width="89.18" height="3.80" fill="#a0a0a0" stroke="#111" stroke-width="0.8" />
<line x1="643.48" y1="397.45" x2="645.68" y2="397.45" stroke="#111" stroke-width="0.6" />
<line x1="645.68" y1="396.45" x2="645.68" y2="398.45" stroke="#111" stroke-width="0.6" />
<rect x="554.30" y="402.25" width="85.87" height="3.80" fill="#111" stroke="#111" stroke-width="0.8" />
<line x1="640.17" y1="404.15" x2="642.37" y2="404.15" stroke="#111" stroke-width="0.6" />
<line x1="642.37" y1="403.15" x2="642.37" y2="405.15" stroke="#111" stroke-width="0.6" />
<line x1="549.30" y1="397.25" x2="554.30" y2="397.25" stroke="#111" stroke-width="1.5" />
<text x="549.00" y="397.25" font-size="6.9" text-anchor="end" fill="#111" font-weight="bold" dominant-baseline="central" >NTC - Chemo</text>
<rect x="554.30" y="413.60" width="23.05" height="3.80" fill="#f3f3f3" stroke="#111" stroke-width="0.8" />
<line x1="577.35" y1="415.50" x2="579.55" y2="415.50" stroke="#111" stroke-width="0.6" />
<line x1="579.55" y1="414.50" x2="579.55" y2="416.50" stroke="#111" stroke-width="0.6" />
<rect x="554.30" y="420.30" width="25.65" height="3.80" fill="#a0a0a0" stroke="#111" stroke-width="0.8" />
<line x1="579.95" y1="422.20" x2="582.15" y2="422.20" stroke="#111" stroke-width="0.6" />
<line x1="582.15" y1="421.20" x2="582.15" y2="423.20" stroke="#111" stroke-width="0.6" />
<rect x="554.30" y="427.00" width="12.52" height="3.80" fill="#111" stroke="#111" stroke-width="0.8" />
<line x1="566.82" y1="428.90" x2="569.02" y2="428.90" stroke="#111" stroke-width="0.6" />
<line x1="569.02" y1="427.90" x2="569.02" y2="429.90" stroke="#111" stroke-width="0.6" />
<line x1="549.30" y1="422.00" x2="554.30" y2="422.00" stroke="#111" stroke-width="1.5" />
<text x="549.00" y="422.00" font-size="6.9" text-anchor="end" fill="#111" font-weight="bold" dominant-baseline="central" >HM13 si#1 - Chemo</text>
<rect x="554.30" y="438.35" width="21.04" height="3.80" fill="#f3f3f3" stroke="#111" stroke-width="0.8" />
<line x1="575.34" y1="440.25" x2="577.54" y2="440.25" stroke="#111" stroke-width="0.6" />
<line x1="577.54" y1="439.25" x2="577.54" y2="441.25" stroke="#111" stroke-width="0.6" />
<rect x="554.30" y="445.05" width="13.03" height="3.80" fill="#a0a0a0" stroke="#111" stroke-width="0.8" />
<line x1="567.33" y1="446.95" x2="569.53" y2="446.95" stroke="#111" stroke-width="0.6" />
<line x1="569.53" y1="445.95" x2="569.53" y2="447.95" stroke="#111" stroke-width="0.6" />
<rect x="554.30" y="451.75" width="13.03" height="3.80" fill="#111" stroke="#111" stroke-width="0.8" />
<line x1="567.33" y1="453.65" x2="569.53" y2="453.65" stroke="#111" stroke-width="0.6" />
<line x1="569.53" y1="452.65" x2="569.53" y2="454.65" stroke="#111" stroke-width="0.6" />
<line x1="549.30" y1="446.75" x2="554.30" y2="446.75" stroke="#111" stroke-width="1.5" />
<text x="549.00" y="446.75" font-size="6.9" text-anchor="end" fill="#111" font-weight="bold" dominant-baseline="central" >HM13 si#2 - Chemo</text>
<text x="615.40" y="340.80" font-size="6.2" text-anchor="start" fill="#222" dominant-baseline="central" >a,d,e,f</text>
<text x="583.80" y="347.70" font-size="6.2" text-anchor="start" fill="#222" dominant-baseline="central" >a,c,d</text>
<text x="599.60" y="353.90" font-size="6.2" text-anchor="start" fill="#222" dominant-baseline="central" >a,c,d,e,f</text>
<text x="611.10" y="364.80" font-size="6.2" text-anchor="start" fill="#222" dominant-baseline="central" >a,d,e,f</text>
<text x="621.00" y="372.00" font-size="6.2" text-anchor="start" fill="#222" dominant-baseline="central" >a,b,d,e,f</text>
<text x="621.00" y="377.90" font-size="6.2" text-anchor="start" fill="#222" dominant-baseline="central" >a,b,d,e,f</text>
<text x="651.20" y="389.40" font-size="6.2" text-anchor="start" fill="#222" dominant-baseline="central" >b,c,e,f</text>
<text x="649.90" y="396.60" font-size="6.2" text-anchor="start" fill="#222" dominant-baseline="central" >b,c,e,f</text>
<text x="646.30" y="403.20" font-size="6.2" text-anchor="start" fill="#222" dominant-baseline="central" >a,b,c,e,f</text>
<text x="587.50" y="414.00" font-size="6.2" text-anchor="start" fill="#222" dominant-baseline="central" >a,b,c,d,#</text>
<text x="594.00" y="421.90" font-size="6.2" text-anchor="start" fill="#222" dominant-baseline="central" >a,c,d,f</text>
<text x="575.00" y="427.80" font-size="6.2" text-anchor="start" fill="#222" dominant-baseline="central" >a,b,c,d,#</text>
<text x="586.50" y="440.00" font-size="6.2" text-anchor="start" fill="#222" dominant-baseline="central" >a,b,c,d,#</text>
<text x="576.60" y="446.60" font-size="6.2" text-anchor="start" fill="#222" dominant-baseline="central" >a,c,d,e,#</text>
<text x="573.30" y="452.50" font-size="6.2" text-anchor="start" fill="#222" dominant-baseline="central" >a,b,c,d,#</text>
<line x1="554.30" y1="312.20" x2="554.30" y2="457.90" stroke="#111" stroke-width="1.3" />
<line x1="553.70" y1="457.40" x2="659.80" y2="457.40" stroke="#111" stroke-width="1.3" />
<line x1="554.30" y1="457.40" x2="554.30" y2="460.60" stroke="#111" stroke-width="0.9" />
<line x1="564.32" y1="457.40" x2="564.32" y2="459.60" stroke="#111" stroke-width="0.9" />
<line x1="574.34" y1="457.40" x2="574.34" y2="459.60" stroke="#111" stroke-width="0.9" />
<line x1="584.36" y1="457.40" x2="584.36" y2="459.60" stroke="#111" stroke-width="0.9" />
<line x1="594.38" y1="457.40" x2="594.38" y2="459.60" stroke="#111" stroke-width="0.9" />
<line x1="604.40" y1="457.40" x2="604.40" y2="460.60" stroke="#111" stroke-width="0.9" />
<line x1="614.42" y1="457.40" x2="614.42" y2="459.60" stroke="#111" stroke-width="0.9" />
<line x1="624.44" y1="457.40" x2="624.44" y2="459.60" stroke="#111" stroke-width="0.9" />
<line x1="634.46" y1="457.40" x2="634.46" y2="459.60" stroke="#111" stroke-width="0.9" />
<line x1="644.48" y1="457.40" x2="644.48" y2="459.60" stroke="#111" stroke-width="0.9" />
<line x1="654.50" y1="457.40" x2="654.50" y2="460.60" stroke="#111" stroke-width="0.9" />
<text x="554.30" y="467.20" font-size="7.0" text-anchor="middle" fill="#111" font-weight="bold" dominant-baseline="central" >0</text>
<text x="604.40" y="467.20" font-size="7.0" text-anchor="middle" fill="#111" font-weight="bold" dominant-baseline="central" >50</text>
<text x="654.50" y="467.20" font-size="7.0" text-anchor="middle" fill="#111" font-weight="bold" dominant-baseline="central" >100</text>
<text x="606.60" y="478.70" font-size="8.5" text-anchor="middle" fill="#111" font-weight="bold" dominant-baseline="central" >% Viability</text>
<rect x="565.10" y="494.00" width="92.60" height="11.30" fill="#fff" stroke="#555" stroke-width="1.1" />
<rect x="567.90" y="496.50" width="11.30" height="6.60" fill="#f0f0f0" stroke="#222" stroke-width="0.8" />
<text x="581.00" y="499.90" font-size="6.9" text-anchor="start" fill="#222" dominant-baseline="central" >24 h</text>
<rect x="598.40" y="496.50" width="11.30" height="6.60" fill="#a8a8a8" stroke="#222" stroke-width="0.8" />
<text x="611.50" y="499.90" font-size="6.9" text-anchor="start" fill="#222" dominant-baseline="central" >48 h</text>
<rect x="628.90" y="496.50" width="11.30" height="6.60" fill="#1a1a1a" stroke="#222" stroke-width="0.8" />
<text x="642.00" y="499.90" font-size="6.9" text-anchor="start" fill="#222" dominant-baseline="central" >72 h</text>
<text font-size="8.4" font-weight="bold" fill="#111" text-anchor="middle" transform="translate(477.5,384.5) rotate(-90)" dominant-baseline="central">Treatment Groups</text>
<rect x="257.10" y="379.36" width="11.80" height="20.14" fill="#fff" stroke="#a9a9a9" stroke-width="1.1" />
<line x1="263.00" y1="391.03" x2="263.00" y2="367.51" stroke="#a9a9a9" stroke-width="0.9" />
<line x1="260.50" y1="391.03" x2="265.50" y2="391.03" stroke="#a9a9a9" stroke-width="0.9" />
<line x1="260.50" y1="367.51" x2="265.50" y2="367.51" stroke="#a9a9a9" stroke-width="0.9" />
<circle cx="258.35" cy="364.89" r="0.95" fill="#a9a9a9" stroke="none" stroke-width="0" />
<circle cx="260.44" cy="376.11" r="0.95" fill="#a9a9a9" stroke="none" stroke-width="0" />
<circle cx="258.74" cy="377.10" r="0.95" fill="#a9a9a9" stroke="none" stroke-width="0" />
<circle cx="258.63" cy="375.96" r="0.95" fill="#a9a9a9" stroke="none" stroke-width="0" />
<circle cx="266.34" cy="387.98" r="0.95" fill="#a9a9a9" stroke="none" stroke-width="0" />
<circle cx="258.66" cy="371.54" r="0.95" fill="#a9a9a9" stroke="none" stroke-width="0" />
<circle cx="264.94" cy="372.83" r="0.95" fill="#a9a9a9" stroke="none" stroke-width="0" />
<circle cx="264.53" cy="367.11" r="0.95" fill="#a9a9a9" stroke="none" stroke-width="0" />
<circle cx="260.14" cy="379.13" r="0.95" fill="#a9a9a9" stroke="none" stroke-width="0" />
<circle cx="261.13" cy="381.11" r="0.95" fill="#a9a9a9" stroke="none" stroke-width="0" />
<circle cx="263.33" cy="372.54" r="0.95" fill="#a9a9a9" stroke="none" stroke-width="0" />
<circle cx="265.47" cy="386.29" r="0.95" fill="#a9a9a9" stroke="none" stroke-width="0" />
<circle cx="264.29" cy="379.21" r="0.95" fill="#a9a9a9" stroke="none" stroke-width="0" />
<circle cx="260.61" cy="386.40" r="0.95" fill="#a9a9a9" stroke="none" stroke-width="0" />
<circle cx="261.39" cy="366.67" r="0.95" fill="#a9a9a9" stroke="none" stroke-width="0" />
<circle cx="259.04" cy="372.22" r="0.95" fill="#a9a9a9" stroke="none" stroke-width="0" />
<circle cx="265.82" cy="371.04" r="0.95" fill="#a9a9a9" stroke="none" stroke-width="0" />
<circle cx="262.63" cy="390.17" r="0.95" fill="#a9a9a9" stroke="none" stroke-width="0" />
<circle cx="264.41" cy="372.49" r="0.95" fill="#a9a9a9" stroke="none" stroke-width="0" />
<circle cx="266.58" cy="384.86" r="0.95" fill="#a9a9a9" stroke="none" stroke-width="0" />
<circle cx="264.32" cy="372.42" r="0.95" fill="#a9a9a9" stroke="none" stroke-width="0" />
<circle cx="267.58" cy="379.77" r="0.95" fill="#a9a9a9" stroke="none" stroke-width="0" />
<circle cx="263.88" cy="373.98" r="0.95" fill="#a9a9a9" stroke="none" stroke-width="0" />
<circle cx="261.49" cy="380.14" r="0.95" fill="#a9a9a9" stroke="none" stroke-width="0" />
<circle cx="265.83" cy="368.90" r="0.95" fill="#a9a9a9" stroke="none" stroke-width="0" />
<circle cx="264.69" cy="378.17" r="0.95" fill="#a9a9a9" stroke="none" stroke-width="0" />
<rect x="275.30" y="360.35" width="12.10" height="39.15" fill="#fff" stroke="#6f9fd2" stroke-width="1.1" />
<line x1="281.35" y1="372.21" x2="281.35" y2="353.39" stroke="#6f9fd2" stroke-width="0.9" />
<line x1="278.85" y1="372.21" x2="283.85" y2="372.21" stroke="#6f9fd2" stroke-width="0.9" />
<line x1="278.85" y1="353.39" x2="283.85" y2="353.39" stroke="#6f9fd2" stroke-width="0.9" />
<circle cx="281.97" cy="351.72" r="0.95" fill="#6f9fd2" stroke="none" stroke-width="0" />
<circle cx="279.39" cy="360.64" r="0.95" fill="#6f9fd2" stroke="none" stroke-width="0" />
<circle cx="278.10" cy="366.34" r="0.95" fill="#6f9fd2" stroke="none" stroke-width="0" />
<circle cx="284.42" cy="354.73" r="0.95" fill="#6f9fd2" stroke="none" stroke-width="0" />
<circle cx="282.95" cy="360.75" r="0.95" fill="#6f9fd2" stroke="none" stroke-width="0" />
<circle cx="281.99" cy="360.94" r="0.95" fill="#6f9fd2" stroke="none" stroke-width="0" />
<circle cx="280.77" cy="353.83" r="0.95" fill="#6f9fd2" stroke="none" stroke-width="0" />
<circle cx="281.21" cy="357.91" r="0.95" fill="#6f9fd2" stroke="none" stroke-width="0" />
<circle cx="279.65" cy="365.98" r="0.95" fill="#6f9fd2" stroke="none" stroke-width="0" />
<circle cx="284.40" cy="366.00" r="0.95" fill="#6f9fd2" stroke="none" stroke-width="0" />
<circle cx="281.19" cy="364.16" r="0.95" fill="#6f9fd2" stroke="none" stroke-width="0" />
<circle cx="285.75" cy="368.98" r="0.95" fill="#6f9fd2" stroke="none" stroke-width="0" />
<circle cx="279.11" cy="363.21" r="0.95" fill="#6f9fd2" stroke="none" stroke-width="0" />
<circle cx="283.33" cy="357.34" r="0.95" fill="#6f9fd2" stroke="none" stroke-width="0" />
<circle cx="277.99" cy="353.32" r="0.95" fill="#6f9fd2" stroke="none" stroke-width="0" />
<circle cx="281.05" cy="357.80" r="0.95" fill="#6f9fd2" stroke="none" stroke-width="0" />
<circle cx="283.10" cy="362.30" r="0.95" fill="#6f9fd2" stroke="none" stroke-width="0" />
<circle cx="281.72" cy="346.33" r="0.95" fill="#6f9fd2" stroke="none" stroke-width="0" />
<circle cx="282.43" cy="360.03" r="0.95" fill="#6f9fd2" stroke="none" stroke-width="0" />
<circle cx="285.72" cy="357.83" r="0.95" fill="#6f9fd2" stroke="none" stroke-width="0" />
<circle cx="282.83" cy="361.71" r="0.95" fill="#6f9fd2" stroke="none" stroke-width="0" />
<circle cx="282.27" cy="356.58" r="0.95" fill="#6f9fd2" stroke="none" stroke-width="0" />
<circle cx="279.44" cy="359.11" r="0.95" fill="#6f9fd2" stroke="none" stroke-width="0" />
<circle cx="284.49" cy="363.03" r="0.95" fill="#6f9fd2" stroke="none" stroke-width="0" />
<circle cx="284.10" cy="359.20" r="0.95" fill="#6f9fd2" stroke="none" stroke-width="0" />
<circle cx="285.44" cy="365.75" r="0.95" fill="#6f9fd2" stroke="none" stroke-width="0" />
<rect x="293.90" y="367.88" width="12.70" height="31.62" fill="#fff" stroke="#f0a828" stroke-width="1.1" />
<line x1="300.25" y1="378.80" x2="300.25" y2="359.98" stroke="#f0a828" stroke-width="0.9" />
<line x1="297.75" y1="378.80" x2="302.75" y2="378.80" stroke="#f0a828" stroke-width="0.9" />
<line x1="297.75" y1="359.98" x2="302.75" y2="359.98" stroke="#f0a828" stroke-width="0.9" />
<circle cx="298.68" cy="357.47" r="0.95" fill="#f0a828" stroke="none" stroke-width="0" />
<circle cx="301.25" cy="369.65" r="0.95" fill="#f0a828" stroke="none" stroke-width="0" />
<circle cx="296.76" cy="370.50" r="0.95" fill="#f0a828" stroke="none" stroke-width="0" />
<circle cx="296.00" cy="367.56" r="0.95" fill="#f0a828" stroke="none" stroke-width="0" />
<circle cx="304.03" cy="380.03" r="0.95" fill="#f0a828" stroke="none" stroke-width="0" />
<circle cx="296.87" cy="380.03" r="0.95" fill="#f0a828" stroke="none" stroke-width="0" />
<circle cx="301.62" cy="359.88" r="0.95" fill="#f0a828" stroke="none" stroke-width="0" />
<circle cx="297.65" cy="364.76" r="0.95" fill="#f0a828" stroke="none" stroke-width="0" />
<circle cx="298.29" cy="373.26" r="0.95" fill="#f0a828" stroke="none" stroke-width="0" />
<circle cx="296.10" cy="365.10" r="0.95" fill="#f0a828" stroke="none" stroke-width="0" />
<circle cx="300.65" cy="365.70" r="0.95" fill="#f0a828" stroke="none" stroke-width="0" />
<circle cx="300.12" cy="357.26" r="0.95" fill="#f0a828" stroke="none" stroke-width="0" />
<circle cx="302.93" cy="353.47" r="0.95" fill="#f0a828" stroke="none" stroke-width="0" />
<circle cx="299.70" cy="363.12" r="0.95" fill="#f0a828" stroke="none" stroke-width="0" />
<circle cx="296.88" cy="374.33" r="0.95" fill="#f0a828" stroke="none" stroke-width="0" />
<circle cx="297.52" cy="380.39" r="0.95" fill="#f0a828" stroke="none" stroke-width="0" />
<circle cx="302.68" cy="378.22" r="0.95" fill="#f0a828" stroke="none" stroke-width="0" />
<circle cx="304.91" cy="357.62" r="0.95" fill="#f0a828" stroke="none" stroke-width="0" />
<circle cx="298.77" cy="356.88" r="0.95" fill="#f0a828" stroke="none" stroke-width="0" />
<circle cx="301.41" cy="356.69" r="0.95" fill="#f0a828" stroke="none" stroke-width="0" />
<circle cx="298.29" cy="376.06" r="0.95" fill="#f0a828" stroke="none" stroke-width="0" />
<circle cx="303.79" cy="358.71" r="0.95" fill="#f0a828" stroke="none" stroke-width="0" />
<circle cx="297.55" cy="364.30" r="0.95" fill="#f0a828" stroke="none" stroke-width="0" />
<circle cx="298.97" cy="366.53" r="0.95" fill="#f0a828" stroke="none" stroke-width="0" />
<circle cx="296.93" cy="370.16" r="0.95" fill="#f0a828" stroke="none" stroke-width="0" />
<circle cx="295.66" cy="352.81" r="0.95" fill="#f0a828" stroke="none" stroke-width="0" />
<line x1="250.30" y1="304.90" x2="250.30" y2="399.50" stroke="#111" stroke-width="1.1" />
<line x1="250.30" y1="399.50" x2="313.30" y2="399.50" stroke="#111" stroke-width="1.1" />
<line x1="246.70" y1="399.50" x2="250.30" y2="399.50" stroke="#111" stroke-width="0.9" />
<text x="244.90" y="399.50" font-size="6.7" text-anchor="end" fill="#111" font-weight="bold" dominant-baseline="central" >0</text>
<line x1="246.70" y1="380.68" x2="250.30" y2="380.68" stroke="#111" stroke-width="0.9" />
<text x="244.90" y="380.68" font-size="6.7" text-anchor="end" fill="#111" font-weight="bold" dominant-baseline="central" >100</text>
<line x1="246.70" y1="361.86" x2="250.30" y2="361.86" stroke="#111" stroke-width="0.9" />
<text x="244.90" y="361.86" font-size="6.7" text-anchor="end" fill="#111" font-weight="bold" dominant-baseline="central" >200</text>
<line x1="246.70" y1="343.04" x2="250.30" y2="343.04" stroke="#111" stroke-width="0.9" />
<text x="244.90" y="343.04" font-size="6.7" text-anchor="end" fill="#111" font-weight="bold" dominant-baseline="central" >300</text>
<line x1="246.70" y1="324.22" x2="250.30" y2="324.22" stroke="#111" stroke-width="0.9" />
<text x="244.90" y="324.22" font-size="6.7" text-anchor="end" fill="#111" font-weight="bold" dominant-baseline="central" >400</text>
<line x1="246.70" y1="305.40" x2="250.30" y2="305.40" stroke="#111" stroke-width="0.9" />
<text x="244.90" y="305.40" font-size="6.7" text-anchor="end" fill="#111" font-weight="bold" dominant-baseline="central" >500</text>
<line x1="263.00" y1="399.50" x2="263.00" y2="402.70" stroke="#111" stroke-width="0.9" />
<text font-size="7.3" fill="#111" stroke="#111" stroke-width="0.25" text-anchor="end" transform="translate(263.50,409.20) rotate(-45)" dominant-baseline="central">NTC - VEH</text>
<line x1="281.35" y1="399.50" x2="281.35" y2="402.70" stroke="#111" stroke-width="0.9" />
<text font-size="7.3" fill="#111" stroke="#111" stroke-width="0.25" text-anchor="end" transform="translate(281.85,409.20) rotate(-45)" dominant-baseline="central">si#1 - VEH</text>
<line x1="300.25" y1="399.50" x2="300.25" y2="402.70" stroke="#111" stroke-width="0.9" />
<text font-size="7.3" fill="#111" stroke="#111" stroke-width="0.25" text-anchor="end" transform="translate(300.75,409.20) rotate(-45)" dominant-baseline="central">si#2 - VEH</text>
<path d="M262.9,314.6 V309.5 H300.3 V336.7" fill="none" stroke="#111" stroke-width="0.9"/>
<text x="281.60" y="302.20" font-size="7.6" text-anchor="middle" fill="#111" dominant-baseline="central" >&lt;0.0001</text>
<path d="M262.9,346.3 V329.4 H282.0 V341.2" fill="none" stroke="#111" stroke-width="0.9"/>
<text x="272.00" y="322.20" font-size="7.6" text-anchor="middle" fill="#111" dominant-baseline="central" >&lt;0.0001</text>
<text font-size="8.1" fill="#111" stroke="#111" stroke-width="0.3" text-anchor="middle" transform="translate(225.4,353.0) rotate(-90)" dominant-baseline="central">Width (μm)</text>
<text x="281.60" y="443.50" font-size="8.2" text-anchor="middle" fill="#111" dominant-baseline="central" stroke="#111" stroke-width="0.3">Groups</text>
<rect x="257.50" y="528.29" width="12.00" height="36.21" fill="#fff" stroke="#a9a9a9" stroke-width="1.1" />
<line x1="263.50" y1="535.91" x2="263.50" y2="520.66" stroke="#a9a9a9" stroke-width="0.9" />
<line x1="261.00" y1="535.91" x2="266.00" y2="535.91" stroke="#a9a9a9" stroke-width="0.9" />
<line x1="261.00" y1="520.66" x2="266.00" y2="520.66" stroke="#a9a9a9" stroke-width="0.9" />
<circle cx="261.89" cy="524.90" r="0.95" fill="#a9a9a9" stroke="none" stroke-width="0" />
<circle cx="261.65" cy="529.98" r="0.95" fill="#a9a9a9" stroke="none" stroke-width="0" />
<circle cx="260.39" cy="529.41" r="0.95" fill="#a9a9a9" stroke="none" stroke-width="0" />
<circle cx="259.56" cy="532.75" r="0.95" fill="#a9a9a9" stroke="none" stroke-width="0" />
<circle cx="260.91" cy="527.83" r="0.95" fill="#a9a9a9" stroke="none" stroke-width="0" />
<circle cx="258.89" cy="539.92" r="0.95" fill="#a9a9a9" stroke="none" stroke-width="0" />
<circle cx="266.35" cy="530.67" r="0.95" fill="#a9a9a9" stroke="none" stroke-width="0" />
<circle cx="266.11" cy="535.48" r="0.95" fill="#a9a9a9" stroke="none" stroke-width="0" />
<circle cx="261.29" cy="532.75" r="0.95" fill="#a9a9a9" stroke="none" stroke-width="0" />
<circle cx="259.50" cy="523.08" r="0.95" fill="#a9a9a9" stroke="none" stroke-width="0" />
<circle cx="263.66" cy="526.09" r="0.95" fill="#a9a9a9" stroke="none" stroke-width="0" />
<circle cx="265.81" cy="519.56" r="0.95" fill="#a9a9a9" stroke="none" stroke-width="0" />
<circle cx="262.72" cy="527.93" r="0.95" fill="#a9a9a9" stroke="none" stroke-width="0" />
<circle cx="264.01" cy="524.65" r="0.95" fill="#a9a9a9" stroke="none" stroke-width="0" />
<circle cx="262.56" cy="534.49" r="0.95" fill="#a9a9a9" stroke="none" stroke-width="0" />
<circle cx="266.00" cy="528.01" r="0.95" fill="#a9a9a9" stroke="none" stroke-width="0" />
<circle cx="261.32" cy="533.86" r="0.95" fill="#a9a9a9" stroke="none" stroke-width="0" />
<circle cx="259.39" cy="533.62" r="0.95" fill="#a9a9a9" stroke="none" stroke-width="0" />
<circle cx="260.03" cy="530.59" r="0.95" fill="#a9a9a9" stroke="none" stroke-width="0" />
<circle cx="264.40" cy="521.39" r="0.95" fill="#a9a9a9" stroke="none" stroke-width="0" />
<circle cx="262.29" cy="513.42" r="0.95" fill="#a9a9a9" stroke="none" stroke-width="0" />
<circle cx="261.76" cy="526.62" r="0.95" fill="#a9a9a9" stroke="none" stroke-width="0" />
<circle cx="262.97" cy="521.56" r="0.95" fill="#a9a9a9" stroke="none" stroke-width="0" />
<circle cx="260.50" cy="529.69" r="0.95" fill="#a9a9a9" stroke="none" stroke-width="0" />
<circle cx="262.39" cy="527.82" r="0.95" fill="#a9a9a9" stroke="none" stroke-width="0" />
<circle cx="261.65" cy="536.97" r="0.95" fill="#a9a9a9" stroke="none" stroke-width="0" />
<rect x="276.50" y="519.71" width="12.00" height="44.79" fill="#fff" stroke="#6f9fd2" stroke-width="1.1" />
<line x1="282.50" y1="531.14" x2="282.50" y2="507.32" stroke="#6f9fd2" stroke-width="0.9" />
<line x1="280.00" y1="531.14" x2="285.00" y2="531.14" stroke="#6f9fd2" stroke-width="0.9" />
<line x1="280.00" y1="507.32" x2="285.00" y2="507.32" stroke="#6f9fd2" stroke-width="0.9" />
<circle cx="284.35" cy="507.66" r="0.95" fill="#6f9fd2" stroke="none" stroke-width="0" />
<circle cx="283.98" cy="518.64" r="0.95" fill="#6f9fd2" stroke="none" stroke-width="0" />
<circle cx="281.38" cy="521.13" r="0.95" fill="#6f9fd2" stroke="none" stroke-width="0" />
<circle cx="282.67" cy="512.87" r="0.95" fill="#6f9fd2" stroke="none" stroke-width="0" />
<circle cx="284.70" cy="531.30" r="0.95" fill="#6f9fd2" stroke="none" stroke-width="0" />
<circle cx="280.64" cy="516.41" r="0.95" fill="#6f9fd2" stroke="none" stroke-width="0" />
<circle cx="284.49" cy="508.62" r="0.95" fill="#6f9fd2" stroke="none" stroke-width="0" />
<circle cx="286.74" cy="525.59" r="0.95" fill="#6f9fd2" stroke="none" stroke-width="0" />
<circle cx="278.01" cy="521.33" r="0.95" fill="#6f9fd2" stroke="none" stroke-width="0" />
<circle cx="281.41" cy="517.08" r="0.95" fill="#6f9fd2" stroke="none" stroke-width="0" />
<circle cx="283.36" cy="509.96" r="0.95" fill="#6f9fd2" stroke="none" stroke-width="0" />
<circle cx="282.17" cy="511.22" r="0.95" fill="#6f9fd2" stroke="none" stroke-width="0" />
<circle cx="280.63" cy="523.62" r="0.95" fill="#6f9fd2" stroke="none" stroke-width="0" />
<circle cx="280.37" cy="527.86" r="0.95" fill="#6f9fd2" stroke="none" stroke-width="0" />
<circle cx="284.74" cy="527.56" r="0.95" fill="#6f9fd2" stroke="none" stroke-width="0" />
<circle cx="280.96" cy="515.22" r="0.95" fill="#6f9fd2" stroke="none" stroke-width="0" />
<circle cx="280.86" cy="524.36" r="0.95" fill="#6f9fd2" stroke="none" stroke-width="0" />
<circle cx="281.15" cy="521.95" r="0.95" fill="#6f9fd2" stroke="none" stroke-width="0" />
<circle cx="282.79" cy="509.66" r="0.95" fill="#6f9fd2" stroke="none" stroke-width="0" />
<circle cx="278.34" cy="514.94" r="0.95" fill="#6f9fd2" stroke="none" stroke-width="0" />
<circle cx="282.30" cy="517.20" r="0.95" fill="#6f9fd2" stroke="none" stroke-width="0" />
<circle cx="281.19" cy="518.04" r="0.95" fill="#6f9fd2" stroke="none" stroke-width="0" />
<circle cx="281.51" cy="514.82" r="0.95" fill="#6f9fd2" stroke="none" stroke-width="0" />
<circle cx="284.42" cy="527.56" r="0.95" fill="#6f9fd2" stroke="none" stroke-width="0" />
<circle cx="279.82" cy="532.85" r="0.95" fill="#6f9fd2" stroke="none" stroke-width="0" />
<circle cx="283.80" cy="515.87" r="0.95" fill="#6f9fd2" stroke="none" stroke-width="0" />
<rect x="295.20" y="518.18" width="12.70" height="46.32" fill="#fff" stroke="#f0a828" stroke-width="1.1" />
<line x1="301.55" y1="523.52" x2="301.55" y2="512.09" stroke="#f0a828" stroke-width="0.9" />
<line x1="299.05" y1="523.52" x2="304.05" y2="523.52" stroke="#f0a828" stroke-width="0.9" />
<line x1="299.05" y1="512.09" x2="304.05" y2="512.09" stroke="#f0a828" stroke-width="0.9" />
<circle cx="304.49" cy="521.45" r="0.95" fill="#f0a828" stroke="none" stroke-width="0" />
<circle cx="301.39" cy="514.64" r="0.95" fill="#f0a828" stroke="none" stroke-width="0" />
<circle cx="298.48" cy="512.25" r="0.95" fill="#f0a828" stroke="none" stroke-width="0" />
<circle cx="305.60" cy="517.15" r="0.95" fill="#f0a828" stroke="none" stroke-width="0" />
<circle cx="302.07" cy="523.33" r="0.95" fill="#f0a828" stroke="none" stroke-width="0" />
<circle cx="297.29" cy="519.21" r="0.95" fill="#f0a828" stroke="none" stroke-width="0" />
<circle cx="304.67" cy="510.50" r="0.95" fill="#f0a828" stroke="none" stroke-width="0" />
<circle cx="300.85" cy="519.91" r="0.95" fill="#f0a828" stroke="none" stroke-width="0" />
<circle cx="301.61" cy="520.19" r="0.95" fill="#f0a828" stroke="none" stroke-width="0" />
<circle cx="297.95" cy="518.65" r="0.95" fill="#f0a828" stroke="none" stroke-width="0" />
<circle cx="302.97" cy="526.10" r="0.95" fill="#f0a828" stroke="none" stroke-width="0" />
<circle cx="299.04" cy="513.22" r="0.95" fill="#f0a828" stroke="none" stroke-width="0" />
<circle cx="301.47" cy="520.53" r="0.95" fill="#f0a828" stroke="none" stroke-width="0" />
<circle cx="303.22" cy="510.12" r="0.95" fill="#f0a828" stroke="none" stroke-width="0" />
<circle cx="302.12" cy="517.21" r="0.95" fill="#f0a828" stroke="none" stroke-width="0" />
<circle cx="303.22" cy="518.89" r="0.95" fill="#f0a828" stroke="none" stroke-width="0" />
<circle cx="300.72" cy="517.98" r="0.95" fill="#f0a828" stroke="none" stroke-width="0" />
<circle cx="297.34" cy="517.71" r="0.95" fill="#f0a828" stroke="none" stroke-width="0" />
<circle cx="302.68" cy="519.84" r="0.95" fill="#f0a828" stroke="none" stroke-width="0" />
<circle cx="299.12" cy="516.61" r="0.95" fill="#f0a828" stroke="none" stroke-width="0" />
<circle cx="301.69" cy="509.73" r="0.95" fill="#f0a828" stroke="none" stroke-width="0" />
<circle cx="303.95" cy="519.58" r="0.95" fill="#f0a828" stroke="none" stroke-width="0" />
<circle cx="300.41" cy="518.07" r="0.95" fill="#f0a828" stroke="none" stroke-width="0" />
<circle cx="302.67" cy="522.95" r="0.95" fill="#f0a828" stroke="none" stroke-width="0" />
<circle cx="305.59" cy="518.45" r="0.95" fill="#f0a828" stroke="none" stroke-width="0" />
<circle cx="305.33" cy="521.57" r="0.95" fill="#f0a828" stroke="none" stroke-width="0" />
<line x1="250.40" y1="468.70" x2="250.40" y2="564.50" stroke="#111" stroke-width="1.1" />
<line x1="250.40" y1="564.50" x2="314.60" y2="564.50" stroke="#111" stroke-width="1.1" />
<line x1="246.80" y1="564.50" x2="250.40" y2="564.50" stroke="#111" stroke-width="0.9" />
<text x="245.10" y="564.50" font-size="7.1" text-anchor="end" fill="#111" font-weight="bold" dominant-baseline="central" >0</text>
<line x1="246.80" y1="545.44" x2="250.40" y2="545.44" stroke="#111" stroke-width="0.9" />
<text x="245.10" y="545.44" font-size="7.1" text-anchor="end" fill="#111" font-weight="bold" dominant-baseline="central" >100</text>
<line x1="246.80" y1="526.38" x2="250.40" y2="526.38" stroke="#111" stroke-width="0.9" />
<text x="245.10" y="526.38" font-size="7.1" text-anchor="end" fill="#111" font-weight="bold" dominant-baseline="central" >200</text>
<line x1="246.80" y1="507.32" x2="250.40" y2="507.32" stroke="#111" stroke-width="0.9" />
<text x="245.10" y="507.32" font-size="7.1" text-anchor="end" fill="#111" font-weight="bold" dominant-baseline="central" >300</text>
<line x1="246.80" y1="488.26" x2="250.40" y2="488.26" stroke="#111" stroke-width="0.9" />
<text x="245.10" y="488.26" font-size="7.1" text-anchor="end" fill="#111" font-weight="bold" dominant-baseline="central" >400</text>
<line x1="246.80" y1="469.20" x2="250.40" y2="469.20" stroke="#111" stroke-width="0.9" />
<text x="245.10" y="469.20" font-size="7.1" text-anchor="end" fill="#111" font-weight="bold" dominant-baseline="central" >500</text>
<line x1="263.50" y1="564.50" x2="263.50" y2="567.70" stroke="#111" stroke-width="0.9" />
<text font-size="7.2" fill="#111" stroke="#111" stroke-width="0.25" text-anchor="end" transform="translate(263.20,574.70) rotate(-45)" dominant-baseline="central">NTC - Chemo</text>
<line x1="282.50" y1="564.50" x2="282.50" y2="567.70" stroke="#111" stroke-width="0.9" />
<text font-size="7.2" fill="#111" stroke="#111" stroke-width="0.25" text-anchor="end" transform="translate(282.20,574.70) rotate(-45)" dominant-baseline="central">si#1 - Chemo</text>
<line x1="301.55" y1="564.50" x2="301.55" y2="567.70" stroke="#111" stroke-width="0.9" />
<text font-size="7.2" fill="#111" stroke="#111" stroke-width="0.25" text-anchor="end" transform="translate(301.25,574.70) rotate(-45)" dominant-baseline="central">si#2 - Chemo</text>
<path d="M262.9,482.2 V476.3 H301.5 V504.3" fill="none" stroke="#111" stroke-width="0.9"/>
<text x="282.50" y="469.20" font-size="7.9" text-anchor="middle" fill="#111" dominant-baseline="central" >&lt;0.0001</text>
<path d="M262.9,508.9 V496.6 H282.5 V501.6" fill="none" stroke="#111" stroke-width="0.9"/>
<text x="272.90" y="489.20" font-size="7.9" text-anchor="middle" fill="#111" dominant-baseline="central" >0.0056</text>
<text font-size="8.35" fill="#111" stroke="#111" stroke-width="0.3" text-anchor="middle" transform="translate(226.0,517.0) rotate(-90)" dominant-baseline="central">Width (μm)</text>
<text x="282.50" y="615.10" font-size="8.2" text-anchor="middle" fill="#111" dominant-baseline="central" stroke="#111" stroke-width="0.3">Groups</text>
<g filter="url(#fl1)"><rect x="0.50" y="510.80" width="68.50" height="51.00" fill="rgb(128,128,128)"/><ellipse cx="48.45" cy="526.10" rx="5.48" ry="5.10" fill="url(#gK)" fill-opacity="0.400"/><ellipse cx="7.35" cy="541.40" rx="5.48" ry="6.12" fill="url(#gK)" fill-opacity="0.400"/><ellipse cx="38.18" cy="541.40" rx="4.80" ry="5.10" fill="url(#gK)" fill-opacity="0.300"/></g>
<text x="2.30" y="516.00" font-size="6.7" text-anchor="start" fill="#fff" font-weight="bold" dominant-baseline="central" >NTC-VEH</text>
<line x1="60.00" y1="554.50" x2="66.00" y2="554.50" stroke="#fff" stroke-width="1.1" />
<g filter="url(#fl2)"><rect x="71.60" y="510.80" width="69.10" height="51.00" fill="rgb(128,128,128)"/><ellipse cx="75.05" cy="515.90" rx="10.36" ry="10.20" fill="url(#gK)" fill-opacity="0.300"/><ellipse cx="130.33" cy="518.45" rx="12.44" ry="10.20" fill="url(#gK)" fill-opacity="0.240"/><ellipse cx="106.15" cy="556.70" rx="13.82" ry="7.65" fill="url(#gK)" fill-opacity="0.240"/><ellipse cx="92.33" cy="538.85" rx="13.82" ry="10.20" fill="url(#gW)" fill-opacity="0.200"/></g>
<text x="73.40" y="516.00" font-size="6.7" text-anchor="start" fill="#fff" font-weight="bold" dominant-baseline="central" >si#1-VEH</text>
<g filter="url(#fl3)"><rect x="143.50" y="510.80" width="69.10" height="51.00" fill="rgb(128,128,128)"/><ellipse cx="157.32" cy="538.85" rx="13.82" ry="5.10" fill="url(#gK)" fill-opacity="0.400"/><ellipse cx="202.23" cy="541.40" rx="6.91" ry="12.75" fill="url(#gK)" fill-opacity="0.300"/><ellipse cx="178.05" cy="518.45" rx="20.73" ry="7.65" fill="url(#gW)" fill-opacity="0.200"/></g>
<text x="145.30" y="516.00" font-size="6.7" text-anchor="start" fill="#fff" font-weight="bold" dominant-baseline="central" >si#2-VEH</text>
<g filter="url(#fl4)"><rect x="0.50" y="565.40" width="68.50" height="50.40" fill="rgb(128,128,128)"/><ellipse cx="27.90" cy="590.60" rx="8.22" ry="30.24" fill="url(#gW)" fill-opacity="0.200"/></g>
<text x="2.30" y="570.60" font-size="6.7" text-anchor="start" fill="#fff" font-weight="bold" dominant-baseline="central" >NTC-Chemo</text>
<g filter="url(#fl5)"><rect x="71.60" y="565.40" width="69.10" height="50.40" fill="rgb(128,128,128)"/><ellipse cx="106.15" cy="588.08" rx="12.44" ry="15.12" fill="url(#gW)" fill-opacity="0.200"/><ellipse cx="130.33" cy="575.48" rx="10.36" ry="10.08" fill="url(#gK)" fill-opacity="0.200"/></g>
<text x="73.40" y="570.60" font-size="6.7" text-anchor="start" fill="#fff" font-weight="bold" dominant-baseline="central" >si#1 Chemo</text>
<g filter="url(#fl6)"><rect x="143.50" y="565.40" width="69.10" height="50.40" fill="rgb(128,128,128)"/><ellipse cx="181.50" cy="590.60" rx="8.29" ry="30.24" fill="url(#gW)" fill-opacity="0.200"/><ellipse cx="150.41" cy="605.72" rx="10.36" ry="10.08" fill="url(#gK)" fill-opacity="0.160"/></g>
<text x="145.30" y="570.60" font-size="6.7" text-anchor="start" fill="#fff" font-weight="bold" dominant-baseline="central" >si#2-Chemo</text>
<g filter="url(#fl7)"><rect x="468.90" y="511.50" width="68.30" height="50.30" fill="rgb(128,128,128)"/><ellipse cx="503.05" cy="536.65" rx="6.15" ry="17.60" fill="url(#gW)" fill-opacity="0.800"/><ellipse cx="482.56" cy="520.55" rx="6.15" ry="6.04" fill="url(#gK)" fill-opacity="0.800"/><ellipse cx="477.10" cy="551.74" rx="6.15" ry="7.04" fill="url(#gK)" fill-opacity="0.600"/><ellipse cx="511.25" cy="547.72" rx="3.42" ry="3.52" fill="url(#gK)" fill-opacity="0.500"/></g>
<text x="470.70" y="516.70" font-size="6.7" text-anchor="start" fill="#fff" font-weight="bold" dominant-baseline="central" >NTC-VEH</text>
<line x1="528.20" y1="554.50" x2="534.20" y2="554.50" stroke="#fff" stroke-width="1.1" />
<g filter="url(#fl8)"><rect x="541.50" y="511.50" width="68.60" height="50.30" fill="rgb(128,128,128)"/><ellipse cx="573.74" cy="532.63" rx="9.60" ry="25.15" fill="url(#gW)" fill-opacity="0.500"/><ellipse cx="595.01" cy="539.16" rx="8.23" ry="8.05" fill="url(#gW)" fill-opacity="0.600"/><ellipse cx="556.59" cy="554.25" rx="10.98" ry="7.04" fill="url(#gW)" fill-opacity="0.560"/><ellipse cx="608.04" cy="529.11" rx="5.49" ry="12.57" fill="url(#gW)" fill-opacity="0.500"/><ellipse cx="548.36" cy="514.01" rx="6.86" ry="5.03" fill="url(#gW)" fill-opacity="0.300"/></g>
<text x="543.30" y="516.70" font-size="6.7" text-anchor="start" fill="#fff" font-weight="bold" dominant-baseline="central" >si#1-VEH</text>
<g filter="url(#fl9)"><rect x="614.40" y="511.50" width="69.00" height="50.30" fill="rgb(128,128,128)"/><ellipse cx="635.10" cy="554.25" rx="31.05" ry="21.13" fill="url(#gW)" fill-opacity="0.700"/><ellipse cx="680.64" cy="531.62" rx="8.28" ry="22.63" fill="url(#gW)" fill-opacity="0.600"/><ellipse cx="648.90" cy="522.57" rx="24.15" ry="16.10" fill="url(#gK)" fill-opacity="0.700"/><ellipse cx="673.74" cy="557.78" rx="6.90" ry="7.04" fill="url(#gK)" fill-opacity="0.500"/></g>
<text x="616.20" y="516.70" font-size="6.7" text-anchor="start" fill="#fff" font-weight="bold" dominant-baseline="central" >si#2-VEH</text>
<g filter="url(#fl10)"><rect x="468.90" y="564.70" width="68.30" height="50.90" fill="rgb(128,128,128)"/><ellipse cx="497.59" cy="590.15" rx="8.20" ry="27.99" fill="url(#gW)" fill-opacity="0.300"/><ellipse cx="518.08" cy="579.97" rx="13.66" ry="10.18" fill="url(#gK)" fill-opacity="0.240"/></g>
<text x="470.70" y="569.90" font-size="6.7" text-anchor="start" fill="#fff" font-weight="bold" dominant-baseline="central" >NTC-Chemo</text>
<g filter="url(#fl11)"><rect x="541.50" y="564.70" width="68.60" height="50.90" fill="rgb(128,128,128)"/><ellipse cx="575.80" cy="594.22" rx="7.55" ry="27.99" fill="url(#gW)" fill-opacity="0.840"/></g>
<text x="543.30" y="569.90" font-size="6.7" text-anchor="start" fill="#fff" font-weight="bold" dominant-baseline="central" >si#1-Chemo</text>
<g filter="url(#fl12)"><rect x="614.40" y="564.70" width="69.00" height="50.90" fill="rgb(128,128,128)"/><ellipse cx="642.00" cy="586.08" rx="11.04" ry="14.25" fill="url(#gW)" fill-opacity="0.800"/><ellipse cx="670.98" cy="592.70" rx="4.83" ry="5.09" fill="url(#gW)" fill-opacity="0.900"/><ellipse cx="646.83" cy="605.42" rx="4.14" ry="5.09" fill="url(#gW)" fill-opacity="0.600"/></g>
<text x="616.20" y="569.90" font-size="6.7" text-anchor="start" fill="#fff" font-weight="bold" dominant-baseline="central" >si#2-Chemo</text>
<rect x="322.00" y="299.20" width="68.30" height="48.30" fill="#000" stroke="none" stroke-width="0" filter="url(#sc1)"/>
<path d="M340.15,299.20 L340.71,302.65 L341.17,306.10 L342.38,309.55 L342.03,313.00 L341.92,316.45 L340.18,319.90 L341.45,323.35 L340.77,326.80 L340.48,330.25 L340.28,333.70 L340.17,337.15 L341.86,340.60 L340.42,344.05 L342.00,347.50 L361.38,347.50 L360.53,344.05 L361.52,340.60 L361.43,337.15 L361.68,333.70 L362.54,330.25 L361.94,326.80 L360.87,323.35 L362.04,319.90 L361.65,316.45 L362.32,313.00 L360.51,309.55 L361.58,306.10 L362.51,302.65 L362.10,299.20 Z" fill="#878783" fill-opacity="1.0" filter="url(#gblur)"/>
<text x="324.60" y="304.10" font-size="6.6" text-anchor="start" fill="#fff" font-weight="bold" dominant-baseline="central" fill-opacity="0.92">NTC-VEH</text>
<rect x="393.80" y="299.20" width="68.20" height="48.30" fill="#000" stroke="none" stroke-width="0" filter="url(#sc2)"/>
<path d="M420.87,299.20 L420.77,302.65 L421.38,306.10 L420.49,309.55 L420.47,313.00 L420.08,316.45 L421.35,319.90 L420.38,323.35 L420.73,326.80 L420.20,330.25 L419.60,333.70 L421.56,337.15 L419.36,340.60 L421.17,344.05 L420.81,347.50 L429.71,347.50 L429.06,344.05 L428.87,340.60 L428.55,337.15 L429.34,333.70 L427.83,330.25 L428.84,326.80 L429.91,323.35 L428.26,319.90 L429.01,316.45 L429.92,313.00 L429.11,309.55 L428.22,306.10 L428.54,302.65 L428.78,299.20 Z" fill="#8c8c88" fill-opacity="0.75" filter="url(#gblur)"/>
<rect x="322.00" y="350.40" width="68.30" height="48.40" fill="#000" stroke="none" stroke-width="0" filter="url(#sc3)"/>
<path d="M341.04,350.40 L339.48,353.86 L339.98,357.31 L340.57,360.77 L339.93,364.23 L340.02,367.69 L340.30,371.14 L338.87,374.60 L340.29,378.06 L340.61,381.51 L339.24,384.97 L339.95,388.43 L339.96,391.89 L340.73,395.34 L341.07,398.80 L361.62,398.80 L360.09,395.34 L361.74,391.89 L360.67,388.43 L360.10,384.97 L362.11,381.51 L360.68,378.06 L360.22,374.60 L360.96,371.14 L362.14,367.69 L360.80,364.23 L360.16,360.77 L361.04,357.31 L360.97,353.86 L361.15,350.40 Z" fill="#a2a29e" fill-opacity="1.0" filter="url(#gblur)"/>
<text x="324.60" y="355.30" font-size="6.6" text-anchor="start" fill="#fff" font-weight="bold" dominant-baseline="central" fill-opacity="0.92">si#1-VEH</text>
<rect x="393.80" y="350.40" width="68.20" height="48.40" fill="#000" stroke="none" stroke-width="0" filter="url(#sc4)"/>
<path d="M418.41,350.40 L417.92,353.86 L418.89,357.31 L419.93,360.77 L418.40,364.23 L418.43,367.69 L418.03,371.14 L418.93,374.60 L417.96,378.06 L420.01,381.51 L419.26,384.97 L420.18,388.43 L418.18,391.89 L419.15,395.34 L419.33,398.80 L433.43,398.80 L434.11,395.34 L434.97,391.89 L435.11,388.43 L433.49,384.97 L434.23,381.51 L434.62,378.06 L433.29,374.60 L432.96,371.14 L434.95,367.69 L434.76,364.23 L434.36,360.77 L434.25,357.31 L434.33,353.86 L435.14,350.40 Z" fill="#b0b0aa" fill-opacity="0.5" filter="url(#gblur)"/>
<rect x="322.00" y="402.00" width="68.30" height="48.30" fill="#000" stroke="none" stroke-width="0" filter="url(#sc5)"/>
<path d="M342.37,402.00 L340.98,405.45 L342.00,408.90 L341.06,412.35 L342.51,415.80 L341.90,419.25 L340.48,422.70 L342.69,426.15 L340.87,429.60 L342.49,433.05 L340.44,436.50 L342.23,439.95 L342.08,443.40 L340.91,446.85 L342.03,450.30 L363.72,450.30 L362.34,446.85 L362.99,443.40 L362.25,439.95 L362.71,436.50 L361.92,433.05 L363.44,429.60 L362.58,426.15 L363.81,422.70 L362.45,419.25 L364.04,415.80 L364.04,412.35 L363.71,408.90 L363.80,405.45 L363.62,402.00 Z" fill="#888884" fill-opacity="1.0" filter="url(#gblur)"/>
<text x="324.60" y="406.90" font-size="6.6" text-anchor="start" fill="#fff" font-weight="bold" dominant-baseline="central" fill-opacity="0.92">si#2-VEH</text>
<rect x="393.80" y="402.00" width="68.20" height="48.30" fill="#000" stroke="none" stroke-width="0" filter="url(#sc6)"/>
<path d="M422.16,402.00 L421.88,405.45 L421.04,408.90 L421.89,412.35 L419.92,415.80 L421.27,419.25 L421.95,422.70 L420.96,426.15 L421.11,429.60 L421.08,433.05 L419.99,436.50 L421.15,439.95 L420.35,443.40 L420.92,446.85 L421.35,450.30 L429.75,450.30 L430.11,446.85 L430.09,443.40 L431.03,439.95 L431.04,436.50 L430.45,433.05 L429.88,429.60 L428.95,426.15 L431.16,422.70 L429.03,419.25 L430.65,415.80 L430.16,412.35 L429.57,408.90 L430.15,405.45 L430.02,402.00 Z" fill="#a0a09c" fill-opacity="0.5" filter="url(#gblur)"/>
<rect x="322.00" y="459.20" width="68.30" height="48.20" fill="#000" stroke="none" stroke-width="0" filter="url(#sc7)"/>
<path d="M345.72,459.20 L344.69,462.64 L344.73,466.09 L344.54,469.53 L343.85,472.97 L343.49,476.41 L344.35,479.86 L344.61,483.30 L345.26,486.74 L344.21,490.19 L345.73,493.63 L343.67,497.07 L344.98,500.51 L343.47,503.96 L343.93,507.40 L363.41,507.40 L365.45,503.96 L364.73,500.51 L364.43,497.07 L365.17,493.63 L365.39,490.19 L364.01,486.74 L365.17,483.30 L363.80,479.86 L364.79,476.41 L365.09,472.97 L364.01,469.53 L364.67,466.09 L364.85,462.64 L363.31,459.20 Z" fill="#8c8c88" fill-opacity="1.0" filter="url(#gblur)"/>
<text x="324.60" y="464.10" font-size="6.6" text-anchor="start" fill="#fff" font-weight="bold" dominant-baseline="central" fill-opacity="0.92">NTC-Chemo</text>
<rect x="393.80" y="459.20" width="68.20" height="48.20" fill="#000" stroke="none" stroke-width="0" filter="url(#sc8)"/>
<path d="M419.68,459.20 L419.87,462.64 L419.88,466.09 L419.82,469.53 L419.94,472.97 L419.14,476.41 L420.62,479.86 L420.17,483.30 L420.46,486.74 L419.59,490.19 L419.00,493.63 L420.87,497.07 L419.37,500.51 L420.82,503.96 L420.86,507.40 L429.48,507.40 L429.03,503.96 L429.95,500.51 L429.91,497.07 L429.33,493.63 L428.66,490.19 L428.01,486.74 L427.86,483.30 L429.39,479.86 L428.65,476.41 L428.18,472.97 L429.57,469.53 L429.56,466.09 L429.62,462.64 L428.89,459.20 Z" fill="#7e7e80" fill-opacity="0.9" filter="url(#gblur)"/>
<rect x="322.00" y="511.30" width="68.30" height="48.20" fill="#000" stroke="none" stroke-width="0" filter="url(#sc9)"/>
<path d="M345.65,511.30 L345.50,514.74 L345.97,518.19 L347.65,521.63 L345.99,525.07 L347.25,528.51 L347.33,531.96 L346.69,535.40 L345.94,538.84 L347.43,542.29 L347.84,545.73 L346.48,549.17 L346.80,552.61 L345.78,556.06 L347.11,559.50 L367.78,559.50 L366.36,556.06 L368.14,552.61 L367.73,549.17 L366.51,545.73 L366.36,542.29 L366.31,538.84 L368.57,535.40 L368.23,531.96 L368.28,528.51 L367.52,525.07 L366.68,521.63 L366.45,518.19 L367.40,514.74 L368.18,511.30 Z" fill="#a4a4a0" fill-opacity="1.0" filter="url(#gblur)"/>
<text x="324.60" y="516.20" font-size="6.6" text-anchor="start" fill="#fff" font-weight="bold" dominant-baseline="central" fill-opacity="0.92">si#1-Chemo</text>
<rect x="393.80" y="511.30" width="68.20" height="48.20" fill="#000" stroke="none" stroke-width="0" filter="url(#sc10)"/>
<path d="M422.66,511.30 L422.66,514.74 L423.13,518.19 L423.82,521.63 L423.59,525.07 L422.71,528.51 L422.44,531.96 L423.07,535.40 L423.28,538.84 L423.65,542.29 L424.48,545.73 L423.50,549.17 L422.78,552.61 L422.39,556.06 L423.92,559.50 L437.31,559.50 L437.25,556.06 L437.10,552.61 L437.00,549.17 L437.09,545.73 L436.64,542.29 L436.53,538.84 L438.07,535.40 L437.57,531.96 L437.82,528.51 L436.62,525.07 L437.74,521.63 L438.24,518.19 L437.36,514.74 L437.02,511.30 Z" fill="#a8a8a4" fill-opacity="0.75" filter="url(#gblur)"/>
<rect x="322.00" y="563.40" width="68.30" height="48.20" fill="#000" stroke="none" stroke-width="0" filter="url(#sc11)"/>
<path d="M342.36,563.40 L344.57,566.84 L342.33,570.29 L343.06,573.73 L344.23,577.17 L344.25,580.61 L342.84,584.06 L343.46,587.50 L342.33,590.94 L343.57,594.39 L343.45,597.83 L344.56,601.27 L343.82,604.71 L342.85,608.16 L344.34,611.60 L361.86,611.60 L362.29,608.16 L363.72,604.71 L362.80,601.27 L363.15,597.83 L363.08,594.39 L362.64,590.94 L362.55,587.50 L363.06,584.06 L361.60,580.61 L361.86,577.17 L362.88,573.73 L362.42,570.29 L362.31,566.84 L362.75,563.40 Z" fill="#8a8a86" fill-opacity="1.0" filter="url(#gblur)"/>
<text x="324.60" y="568.30" font-size="6.6" text-anchor="start" fill="#fff" font-weight="bold" dominant-baseline="central" fill-opacity="0.92">si#2-Chemo</text>
<rect x="393.80" y="563.40" width="68.20" height="48.20" fill="#000" stroke="none" stroke-width="0" filter="url(#sc12)"/>
<path d="M421.60,563.40 L422.12,566.84 L420.84,570.29 L421.71,573.73 L421.36,577.17 L421.28,580.61 L421.77,584.06 L421.69,587.50 L421.93,590.94 L420.58,594.39 L422.17,597.83 L420.08,601.27 L420.95,604.71 L420.92,608.16 L420.43,611.60 L433.10,611.60 L433.24,608.16 L433.74,604.71 L434.05,601.27 L434.69,597.83 L434.51,594.39 L435.05,590.94 L434.19,587.50 L434.48,584.06 L435.10,580.61 L434.75,577.17 L432.98,573.73 L434.08,570.29 L433.67,566.84 L435.17,563.40 Z" fill="#a4a4a0" fill-opacity="0.75" filter="url(#gblur)"/>
<line x1="376.00" y1="342.40" x2="386.80" y2="342.40" stroke="#000" stroke-width="1.6" />
<text x="356.60" y="295.60" font-size="8.6" text-anchor="middle" fill="#111" font-weight="bold" dominant-baseline="central" >0h</text>
<text x="428.40" y="295.60" font-size="8.6" text-anchor="middle" fill="#111" font-weight="bold" dominant-baseline="central" >72h</text>
<line x1="40.40" y1="712.20" x2="87.20" y2="712.20" stroke="#9696b4" stroke-width="2.0" />
<line x1="40.40" y1="712.20" x2="40.40" y2="748.00" stroke="#9696b4" stroke-width="2.2" />
<line x1="66.60" y1="819.30" x2="124.20" y2="837.40" stroke="#9696b4" stroke-width="1.6" />
<line x1="40.40" y1="712.20" x2="66.60" y2="819.30" stroke="#6c6c92" stroke-width="2.6" />
<line x1="40.40" y1="712.20" x2="185.60" y2="819.00" stroke="#6c6c92" stroke-width="2.4" />
<line x1="123.60" y1="748.00" x2="124.20" y2="837.40" stroke="#6c6c92" stroke-width="2.6" />
<line x1="71.10" y1="667.40" x2="162.20" y2="668.20" stroke="#3c3c68" stroke-width="4.2" stroke-opacity="0.82"/>
<line x1="71.10" y1="667.40" x2="199.70" y2="698.20" stroke="#3c3c68" stroke-width="3.0" stroke-opacity="0.82"/>
<line x1="71.10" y1="667.40" x2="199.70" y2="749.00" stroke="#3c3c68" stroke-width="3.0" stroke-opacity="0.82"/>
<line x1="71.10" y1="667.40" x2="123.60" y2="748.00" stroke="#3c3c68" stroke-width="4.0" stroke-opacity="0.82"/>
<line x1="71.10" y1="667.40" x2="185.60" y2="819.00" stroke="#3c3c68" stroke-width="3.5" stroke-opacity="0.82"/>
<line x1="71.10" y1="667.40" x2="66.60" y2="819.30" stroke="#3c3c68" stroke-width="4.0" stroke-opacity="0.82"/>
<line x1="71.10" y1="667.40" x2="40.40" y2="712.20" stroke="#3c3c68" stroke-width="3.0" stroke-opacity="0.82"/>
<line x1="71.10" y1="667.40" x2="87.20" y2="712.20" stroke="#3c3c68" stroke-width="3.0" stroke-opacity="0.82"/>
<line x1="162.20" y1="668.20" x2="40.40" y2="712.20" stroke="#3c3c68" stroke-width="2.6" stroke-opacity="0.82"/>
<line x1="162.20" y1="668.20" x2="87.20" y2="712.20" stroke="#3c3c68" stroke-width="3.0" stroke-opacity="0.82"/>
<line x1="162.20" y1="668.20" x2="199.70" y2="698.20" stroke="#3c3c68" stroke-width="3.0" stroke-opacity="0.82"/>
<line x1="162.20" y1="668.20" x2="123.60" y2="748.00" stroke="#3c3c68" stroke-width="3.6" stroke-opacity="0.82"/>
<line x1="162.20" y1="668.20" x2="66.60" y2="819.30" stroke="#3c3c68" stroke-width="4.0" stroke-opacity="0.82"/>
<line x1="162.20" y1="668.20" x2="185.60" y2="819.00" stroke="#3c3c68" stroke-width="3.5" stroke-opacity="0.82"/>
<line x1="162.20" y1="668.20" x2="199.70" y2="749.00" stroke="#3c3c68" stroke-width="3.0" stroke-opacity="0.82"/>
<line x1="199.70" y1="698.20" x2="40.40" y2="712.20" stroke="#3c3c68" stroke-width="2.6" stroke-opacity="0.82"/>
<line x1="199.70" y1="698.20" x2="87.20" y2="712.20" stroke="#3c3c68" stroke-width="3.0" stroke-opacity="0.82"/>
<line x1="199.70" y1="698.20" x2="123.60" y2="748.00" stroke="#3c3c68" stroke-width="3.0" stroke-opacity="0.82"/>
<line x1="199.70" y1="698.20" x2="199.70" y2="749.00" stroke="#3c3c68" stroke-width="3.0" stroke-opacity="0.82"/>
<line x1="199.70" y1="698.20" x2="66.60" y2="819.30" stroke="#3c3c68" stroke-width="3.5" stroke-opacity="0.82"/>
<line x1="199.70" y1="698.20" x2="185.60" y2="819.00" stroke="#3c3c68" stroke-width="3.0" stroke-opacity="0.82"/>
<line x1="40.40" y1="712.20" x2="123.60" y2="748.00" stroke="#3c3c68" stroke-width="2.6" stroke-opacity="0.82"/>
<line x1="40.40" y1="712.20" x2="199.70" y2="749.00" stroke="#3c3c68" stroke-width="2.6" stroke-opacity="0.82"/>
<line x1="40.40" y1="748.00" x2="199.70" y2="749.00" stroke="#3c3c68" stroke-width="2.6" stroke-opacity="0.82"/>
<line x1="87.20" y1="712.20" x2="123.60" y2="748.00" stroke="#3c3c68" stroke-width="3.6" stroke-opacity="0.82"/>
<line x1="87.20" y1="712.20" x2="199.70" y2="749.00" stroke="#3c3c68" stroke-width="3.0" stroke-opacity="0.82"/>
<line x1="87.20" y1="712.20" x2="66.60" y2="819.30" stroke="#3c3c68" stroke-width="3.5" stroke-opacity="0.82"/>
<line x1="87.20" y1="712.20" x2="185.60" y2="819.00" stroke="#3c3c68" stroke-width="3.0" stroke-opacity="0.82"/>
<line x1="123.60" y1="748.00" x2="66.60" y2="819.30" stroke="#3c3c68" stroke-width="4.0" stroke-opacity="0.82"/>
<line x1="123.60" y1="748.00" x2="185.60" y2="819.00" stroke="#3c3c68" stroke-width="4.2" stroke-opacity="0.82"/>
<line x1="123.60" y1="748.00" x2="199.70" y2="749.00" stroke="#3c3c68" stroke-width="3.0" stroke-opacity="0.82"/>
<line x1="199.70" y1="749.00" x2="66.60" y2="819.30" stroke="#3c3c68" stroke-width="3.5" stroke-opacity="0.82"/>
<line x1="199.70" y1="749.00" x2="185.60" y2="819.00" stroke="#3c3c68" stroke-width="3.5" stroke-opacity="0.82"/>
<line x1="199.70" y1="749.00" x2="124.20" y2="837.40" stroke="#3c3c68" stroke-width="3.0" stroke-opacity="0.82"/>
<line x1="66.60" y1="819.30" x2="185.60" y2="819.00" stroke="#3c3c68" stroke-width="4.2" stroke-opacity="0.82"/>
<circle cx="71.10" cy="667.40" r="9.90" fill="#cfe4f3" stroke="#7f98a8" stroke-width="1.4" />
<circle cx="162.20" cy="668.20" r="9.90" fill="#d2f1cf" stroke="#7ca879" stroke-width="1.4" />
<circle cx="199.70" cy="698.20" r="9.90" fill="#f2bdb8" stroke="#a87a76" stroke-width="1.4" />
<circle cx="40.40" cy="712.20" r="9.90" fill="#c9c1e6" stroke="#7e789d" stroke-width="1.4" />
<circle cx="87.20" cy="712.20" r="9.90" fill="#abdcc8" stroke="#5b907a" stroke-width="1.4" />
<circle cx="40.40" cy="748.00" r="9.90" fill="#9c9cda" stroke="#5a5a96" stroke-width="1.4" />
<circle cx="123.60" cy="748.00" r="9.90" fill="#ef9a80" stroke="#a45a45" stroke-width="1.4" />
<circle cx="199.70" cy="749.00" r="9.90" fill="#f6d9b2" stroke="#a88f6f" stroke-width="1.4" />
<circle cx="66.60" cy="819.30" r="9.90" fill="#d7d7a2" stroke="#8a8a56" stroke-width="1.4" />
<circle cx="185.60" cy="819.00" r="9.90" fill="#a0dc9b" stroke="#589454" stroke-width="1.4" />
<circle cx="124.20" cy="837.40" r="9.90" fill="#e5f4c2" stroke="#93a377" stroke-width="1.4" />
<text x="70.50" y="652.60" font-size="6.4" text-anchor="middle" fill="#222" dominant-baseline="central" >SYVN1</text>
<text x="162.50" y="652.60" font-size="6.4" text-anchor="middle" fill="#222" dominant-baseline="central" >SEL1L</text>
<text x="207.70" y="683.30" font-size="6.4" text-anchor="middle" fill="#222" dominant-baseline="central" >SELENOS</text>
<text x="23.80" y="698.00" font-size="6.4" text-anchor="middle" fill="#222" dominant-baseline="central" >HSP90B1</text>
<text x="88.3" y="699.0" font-size="6.4" text-anchor="middle" dominant-baseline="central" fill="#fff" stroke="#fff" stroke-width="1.6" font-weight="normal">AMFR</text>
<text x="88.30" y="699.00" font-size="6.4" text-anchor="middle" fill="#222" dominant-baseline="central" >AMFR</text>
<text x="21.00" y="737.50" font-size="6.4" text-anchor="middle" fill="#222" dominant-baseline="central" >HMOX1</text>
<text x="138.2" y="734.8" font-size="6.4" text-anchor="middle" dominant-baseline="central" fill="#fff" stroke="#fff" stroke-width="1.6" font-weight="bold">HM13</text>
<text x="138.20" y="734.80" font-size="6.4" text-anchor="middle" fill="#222" font-weight="bold" dominant-baseline="central" >HM13</text>
<text x="215.90" y="737.50" font-size="6.4" text-anchor="middle" fill="#222" dominant-baseline="central" >RNF139</text>
<text x="66.50" y="835.20" font-size="6.4" text-anchor="middle" fill="#222" dominant-baseline="central" >DERL1</text>
<text x="187.30" y="834.20" font-size="6.4" text-anchor="middle" fill="#222" dominant-baseline="central" >VCP</text>
<text x="125.40" y="852.40" font-size="6.4" text-anchor="middle" fill="#222" dominant-baseline="central" >USH2A</text>
<rect x="392.50" y="662.60" width="220.70" height="100.20" fill="#eef8ec" stroke="none" stroke-width="0" />
<rect x="392.50" y="764.60" width="220.70" height="31.80" fill="#eef8ec" stroke="none" stroke-width="0" />
<rect x="392.50" y="798.40" width="220.70" height="15.40" fill="#e4e4ee" stroke="none" stroke-width="0" />
<rect x="392.50" y="815.40" width="220.70" height="15.40" fill="#e4e4ee" stroke="none" stroke-width="0" />
<line x1="405.90" y1="653.40" x2="405.90" y2="838.50" stroke="#a8a8a8" stroke-width="0.6" stroke-dasharray="2,1.6"/>
<line x1="443.02" y1="653.40" x2="443.02" y2="838.50" stroke="#a8a8a8" stroke-width="0.6" stroke-dasharray="2,1.6"/>
<line x1="480.14" y1="653.40" x2="480.14" y2="838.50" stroke="#a8a8a8" stroke-width="0.6" stroke-dasharray="2,1.6"/>
<line x1="517.26" y1="653.40" x2="517.26" y2="838.50" stroke="#a8a8a8" stroke-width="0.6" stroke-dasharray="2,1.6"/>
<line x1="554.38" y1="653.40" x2="554.38" y2="838.50" stroke="#a8a8a8" stroke-width="0.6" stroke-dasharray="2,1.6"/>
<line x1="591.50" y1="653.40" x2="591.50" y2="838.50" stroke="#a8a8a8" stroke-width="0.6" stroke-dasharray="2,1.6"/>
<text x="514.30" y="646.80" font-size="9.15" text-anchor="middle" fill="#111" dominant-baseline="central" >Biological Process (Gene Ontology) enrichment</text>
<line x1="392.50" y1="670.30" x2="600.78" y2="670.30" stroke="#a9e08e" stroke-width="2.5" />
<circle cx="600.78" cy="670.30" r="6.75" fill="#8ad652" stroke="#7ab454" stroke-width="1.7" />
<text x="390.40" y="670.30" font-size="6.8" text-anchor="end" fill="#111" dominant-baseline="central" >ERAD pathway</text>
<line x1="392.50" y1="687.10" x2="528.40" y2="687.10" stroke="#84c4ab" stroke-width="2.5" />
<circle cx="528.40" cy="687.10" r="6.45" fill="#4aaa88" stroke="#5a9680" stroke-width="1.7" />
<text x="390.40" y="687.10" font-size="6.8" text-anchor="end" fill="#111" dominant-baseline="central" >Ubiquitin-dependent ERAD pathway</text>
<line x1="392.50" y1="704.20" x2="483.85" y2="704.20" stroke="#72a9b3" stroke-width="2.5" />
<circle cx="483.85" cy="704.20" r="7.45" fill="#3f8e8e" stroke="#4c7a7c" stroke-width="1.7" />
<text x="390.40" y="704.20" font-size="6.8" text-anchor="end" fill="#111" dominant-baseline="central" >Organonitrogen compound catabolic process</text>
<line x1="392.50" y1="721.20" x2="459.72" y2="721.20" stroke="#7a8ab9" stroke-width="2.5" />
<circle cx="459.72" cy="721.20" r="7.55" fill="#3f6a9a" stroke="#4c5f84" stroke-width="1.7" />
<text x="390.40" y="721.20" font-size="6.8" text-anchor="end" fill="#111" dominant-baseline="central" >Cellular response to stress</text>
<line x1="392.50" y1="738.20" x2="421.68" y2="738.20" stroke="#7569b3" stroke-width="2.5" />
<circle cx="421.68" cy="738.20" r="7.55" fill="#45489a" stroke="#4f5088" stroke-width="1.7" />
<text x="390.40" y="738.20" font-size="6.8" text-anchor="end" fill="#111" dominant-baseline="central" >Response to organic substance</text>
<line x1="392.50" y1="755.30" x2="403.12" y2="755.30" stroke="#6d64af" stroke-width="2.5" />
<circle cx="403.12" cy="755.30" r="6.55" fill="#434294" stroke="#4d4c84" stroke-width="1.7" />
<text x="390.40" y="755.30" font-size="6.8" text-anchor="end" fill="#111" dominant-baseline="central" >Cellular catabolic process</text>
<line x1="392.50" y1="772.40" x2="599.30" y2="772.40" stroke="#a9e08e" stroke-width="2.5" />
<circle cx="599.30" cy="772.40" r="6.35" fill="#8ad652" stroke="#7ab454" stroke-width="1.7" />
<text x="390.40" y="772.40" font-size="6.8" text-anchor="end" fill="#111" dominant-baseline="central" >Retrograde protein transport, ER to cytosol</text>
<line x1="392.50" y1="789.30" x2="417.04" y2="789.30" stroke="#7569b3" stroke-width="2.5" />
<circle cx="417.04" cy="789.30" r="6.75" fill="#45489a" stroke="#4f5088" stroke-width="1.7" />
<text x="390.40" y="789.30" font-size="6.8" text-anchor="end" fill="#111" dominant-baseline="central" >Establishment of protein localization</text>
<line x1="392.50" y1="806.30" x2="421.68" y2="806.30" stroke="#7569b3" stroke-width="2.5" />
<circle cx="421.68" cy="806.30" r="5.55" fill="#45489a" stroke="#4f5088" stroke-width="1.7" />
<text x="390.40" y="806.30" font-size="6.8" text-anchor="end" fill="#111" dominant-baseline="central" >Endoplasmic reticulum unfolded protein response</text>
<line x1="392.50" y1="823.20" x2="411.47" y2="823.20" stroke="#7569b3" stroke-width="2.5" />
<circle cx="411.47" cy="823.20" r="4.75" fill="#45489a" stroke="#4f5088" stroke-width="1.7" />
<text x="390.40" y="823.20" font-size="6.8" text-anchor="end" fill="#111" dominant-baseline="central" >Endoplasmic reticulum mannose trimming</text>
<text x="405.90" y="844.70" font-size="5.0" text-anchor="middle" fill="#333" dominant-baseline="central" >4</text>
<text x="443.02" y="844.70" font-size="5.0" text-anchor="middle" fill="#333" dominant-baseline="central" >6</text>
<text x="480.14" y="844.70" font-size="5.0" text-anchor="middle" fill="#333" dominant-baseline="central" >8</text>
<text x="517.26" y="844.70" font-size="5.0" text-anchor="middle" fill="#333" dominant-baseline="central" >10</text>
<text x="554.38" y="844.70" font-size="5.0" text-anchor="middle" fill="#333" dominant-baseline="central" >12</text>
<text x="591.50" y="844.70" font-size="5.0" text-anchor="middle" fill="#333" dominant-baseline="central" >14</text>
<text x="502.00" y="851.50" font-size="5.0" text-anchor="middle" fill="#333" dominant-baseline="central" >-log(FDR)</text>
<rect x="616.90" y="662.20" width="6.80" height="100.60" fill="#88d750" stroke="none" stroke-width="0" />
<rect x="616.90" y="764.40" width="6.80" height="31.90" fill="#88d750" stroke="none" stroke-width="0" />
<rect x="616.90" y="798.40" width="6.80" height="15.20" fill="#48479a" stroke="none" stroke-width="0" />
<rect x="616.90" y="815.30" width="6.80" height="15.60" fill="#48479a" stroke="none" stroke-width="0" />
<text font-size="5.3" fill="#222" text-anchor="middle" transform="translate(630.3,745.5) rotate(-90)" dominant-baseline="central">Groups at similarity 0.8</text>
<text x="639.00" y="658.90" font-size="5.2" text-anchor="start" fill="#222" dominant-baseline="central" >FDR</text>
<rect x="639.10" y="664.70" width="6.30" height="8.48" fill="#80d44e" stroke="none" stroke-width="0" />
<rect x="639.10" y="673.18" width="6.30" height="8.48" fill="#5cc275" stroke="none" stroke-width="0" />
<rect x="639.10" y="681.67" width="6.30" height="8.48" fill="#40a488" stroke="none" stroke-width="0" />
<rect x="639.10" y="690.15" width="6.30" height="8.48" fill="#35868c" stroke="none" stroke-width="0" />
<rect x="639.10" y="698.63" width="6.30" height="8.48" fill="#39658f" stroke="none" stroke-width="0" />
<rect x="639.10" y="707.12" width="6.30" height="8.48" fill="#463e8e" stroke="none" stroke-width="0" />
<line x1="645.40" y1="669.00" x2="647.60" y2="669.00" stroke="#222" stroke-width="0.5" />
<text x="649.60" y="669.00" font-size="4.8" text-anchor="start" fill="#222" dominant-baseline="central" >1.0e-15</text>
<line x1="645.40" y1="677.58" x2="647.60" y2="677.58" stroke="#222" stroke-width="0.5" />
<text x="649.60" y="677.58" font-size="4.8" text-anchor="start" fill="#222" dominant-baseline="central" >1.0e-13</text>
<line x1="645.40" y1="686.16" x2="647.60" y2="686.16" stroke="#222" stroke-width="0.5" />
<text x="649.60" y="686.16" font-size="4.8" text-anchor="start" fill="#222" dominant-baseline="central" >1.0e-11</text>
<line x1="645.40" y1="694.74" x2="647.60" y2="694.74" stroke="#222" stroke-width="0.5" />
<text x="649.60" y="694.74" font-size="4.8" text-anchor="start" fill="#222" dominant-baseline="central" >1.0e-09</text>
<line x1="645.40" y1="703.32" x2="647.60" y2="703.32" stroke="#222" stroke-width="0.5" />
<text x="649.60" y="703.32" font-size="4.8" text-anchor="start" fill="#222" dominant-baseline="central" >1.0e-07</text>
<line x1="645.40" y1="711.90" x2="647.60" y2="711.90" stroke="#222" stroke-width="0.5" />
<text x="649.60" y="711.90" font-size="4.8" text-anchor="start" fill="#222" dominant-baseline="central" >1.0e-04</text>
<text x="638.80" y="728.30" font-size="5.2" text-anchor="start" fill="#222" dominant-baseline="central" >Gene count</text>
<circle cx="648.40" cy="739.60" r="4.10" fill="#8ad652" stroke="#7ab454" stroke-width="1.8" />
<text x="659.00" y="739.60" font-size="4.9" text-anchor="start" fill="#222" dominant-baseline="central" >3</text>
<circle cx="648.40" cy="754.20" r="5.90" fill="#8ad652" stroke="#7ab454" stroke-width="1.8" />
<text x="659.00" y="754.20" font-size="4.9" text-anchor="start" fill="#222" dominant-baseline="central" >6</text>
<circle cx="648.40" cy="771.60" r="7.90" fill="#8ad652" stroke="#7ab454" stroke-width="1.8" />
<text x="659.00" y="771.60" font-size="4.9" text-anchor="start" fill="#222" dominant-baseline="central" >10</text>
</svg>
</body></html>
